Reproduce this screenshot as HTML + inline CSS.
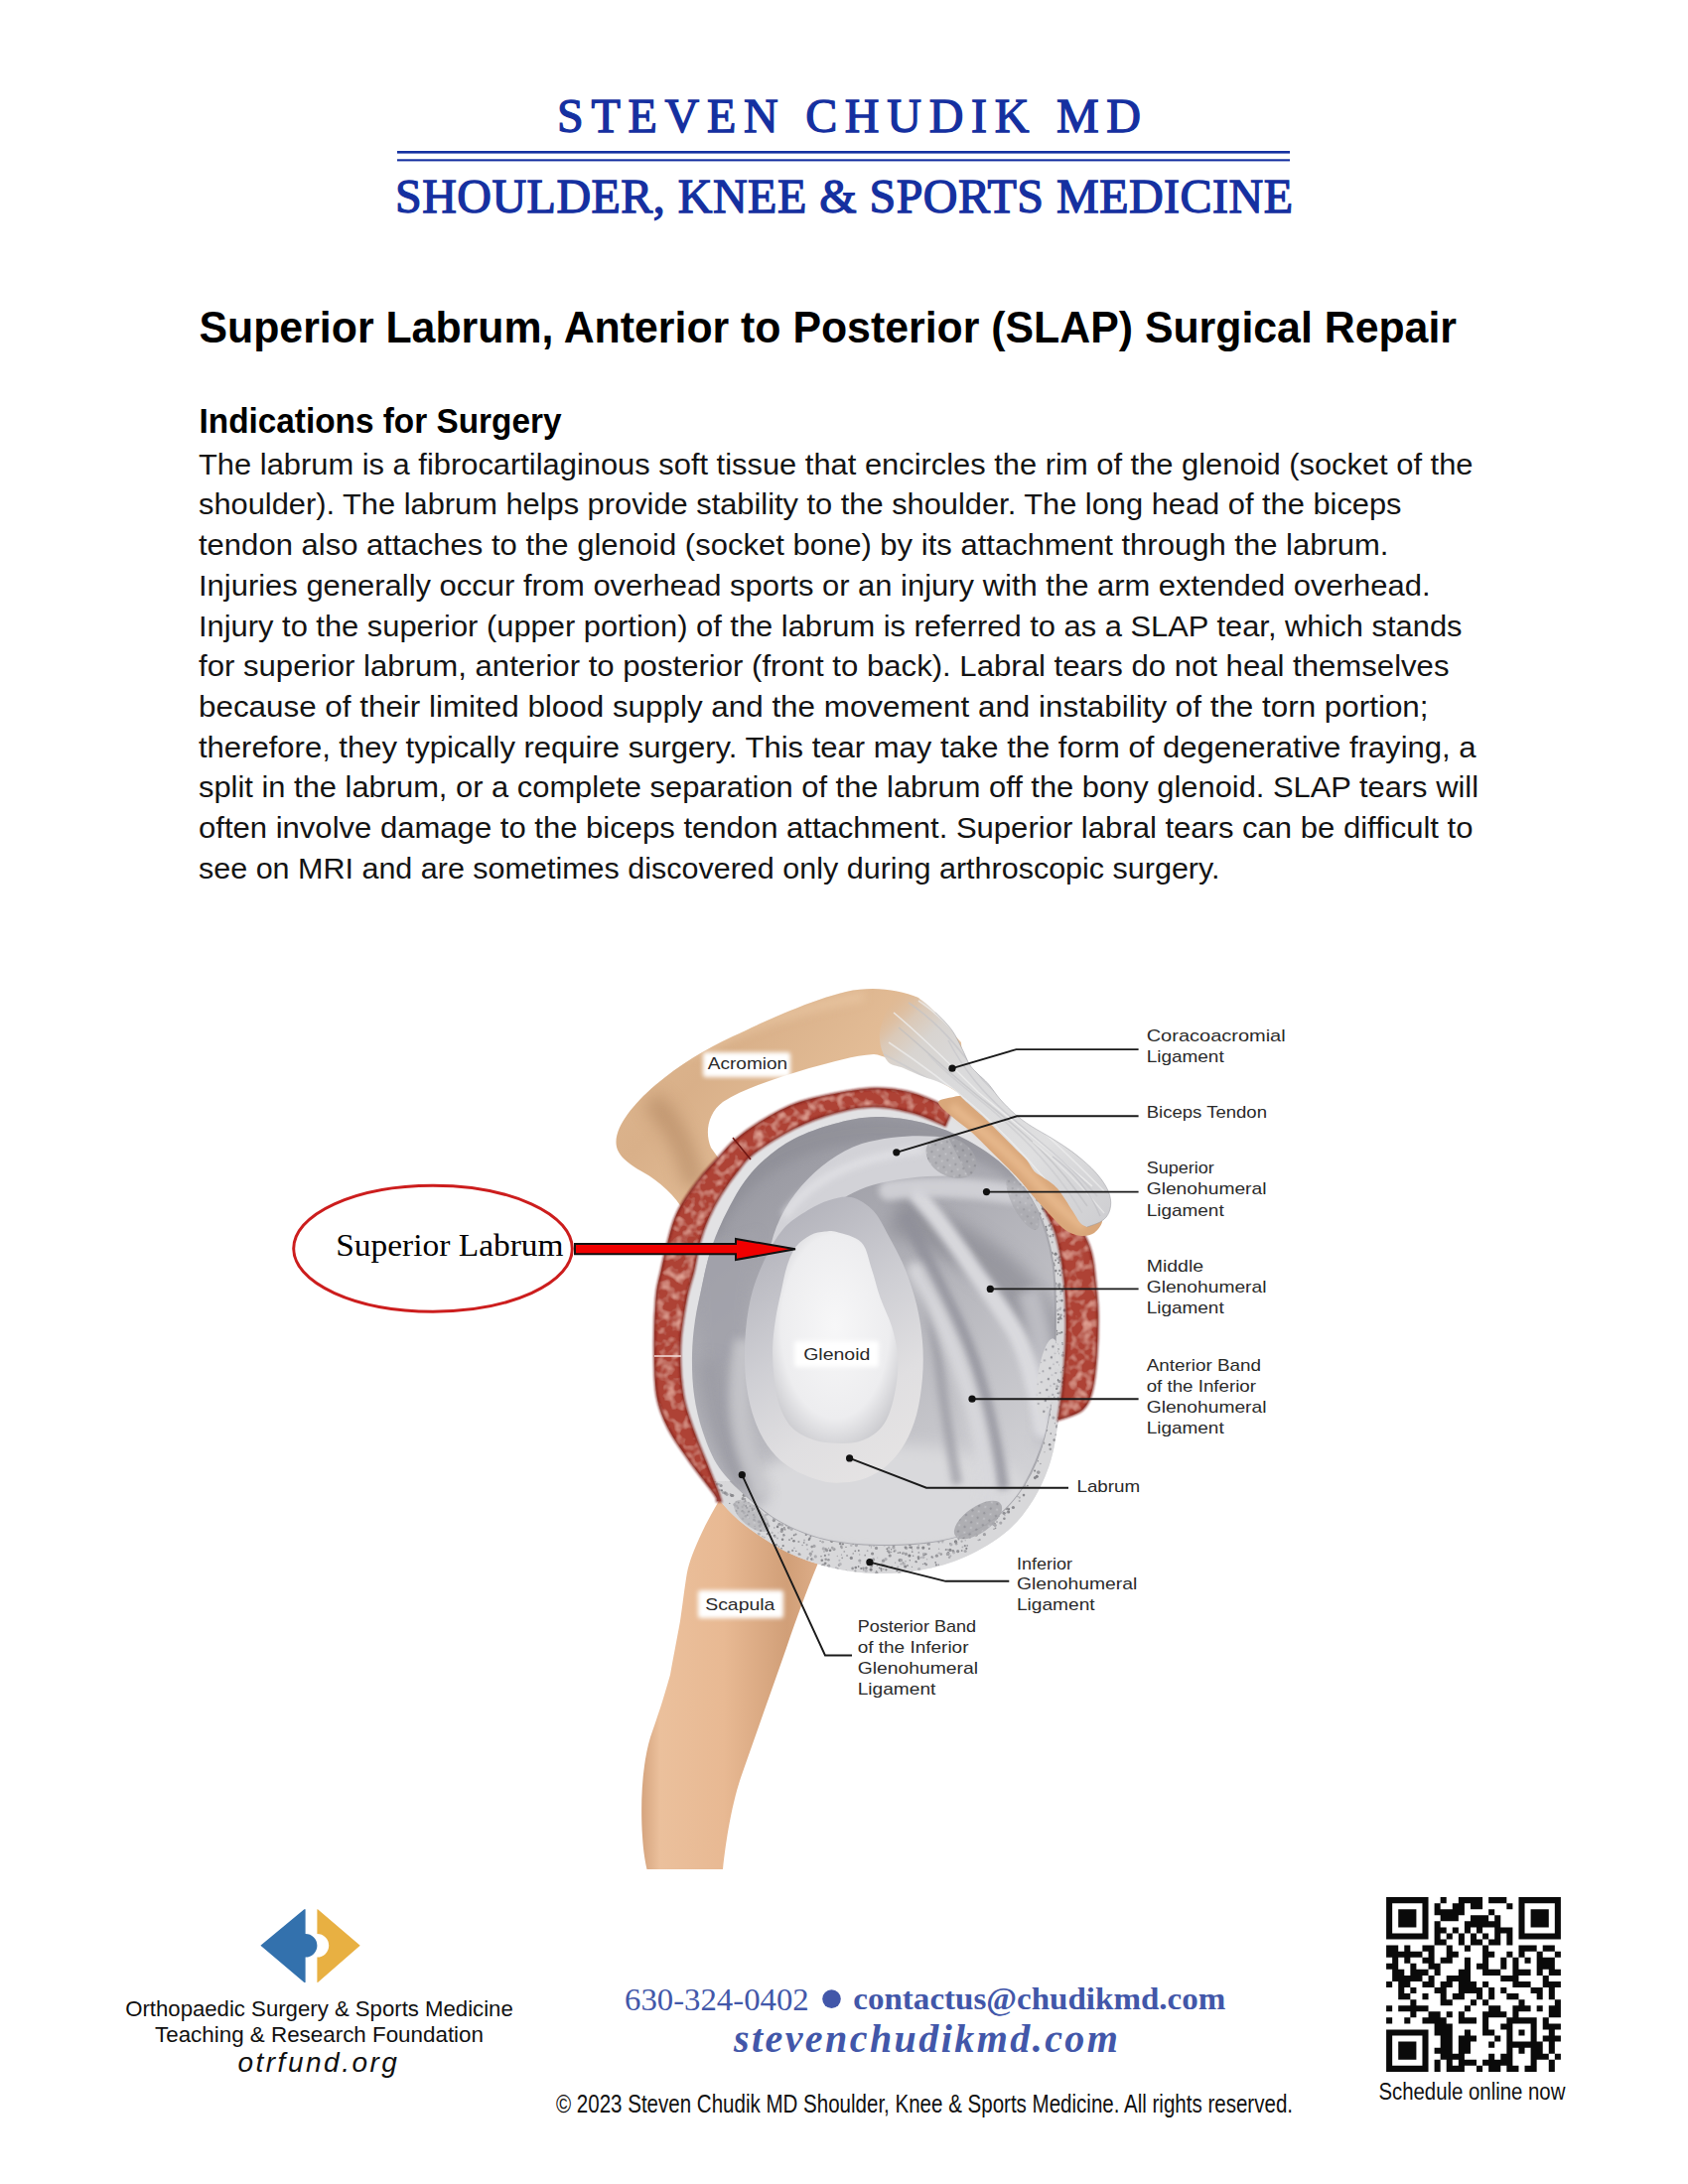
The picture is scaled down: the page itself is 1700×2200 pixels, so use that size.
<!DOCTYPE html>
<html><head><meta charset="utf-8">
<style>
html,body{margin:0;padding:0;background:#fff;}
body{width:1700px;height:2200px;overflow:hidden;position:relative;}
svg{position:absolute;left:0;top:0;}
.sans{font-family:"Liberation Sans",sans-serif;}
.serif{font-family:"Liberation Serif",serif;}
</style></head>
<body>
<svg width="1700" height="2200" viewBox="0 0 1700 2200">
<!-- HEADER -->
<g fill="#1530a0" class="serif" stroke="#1530a0" stroke-width="1.3">
<text x="561" y="133.2" font-size="48" textLength="588" lengthAdjust="spacing">STEVEN CHUDIK MD</text>
<rect x="400" y="152" width="899" height="2.6" stroke="none"/>
<rect x="400" y="160.3" width="899" height="2.1" stroke="none"/>
<text x="398" y="213.6" font-size="48" textLength="904" lengthAdjust="spacing">SHOULDER, KNEE &amp; SPORTS MEDICINE</text>
</g>
<!-- TITLE -->
<g class="sans" fill="#000">
<text x="200.5" y="345" font-size="45" font-weight="bold" textLength="1266.5" lengthAdjust="spacingAndGlyphs">Superior Labrum, Anterior to Posterior (SLAP) Surgical Repair</text>
<text x="200.5" y="436" font-size="35.3" font-weight="bold" textLength="365" lengthAdjust="spacingAndGlyphs">Indications for Surgery</text>
<g font-size="29.6" fill="#141414">
<text x="200" y="477.7" textLength="1283.5" lengthAdjust="spacingAndGlyphs">The labrum is a fibrocartilaginous soft tissue that encircles the rim of the glenoid (socket of the</text>
<text x="200" y="518.4" textLength="1211.5" lengthAdjust="spacingAndGlyphs">shoulder). The labrum helps provide stability to the shoulder. The long head of the biceps</text>
<text x="200" y="559.1" textLength="1198.5" lengthAdjust="spacingAndGlyphs">tendon also attaches to the glenoid (socket bone) by its attachment through the labrum.</text>
<text x="200" y="599.8" textLength="1240.5" lengthAdjust="spacingAndGlyphs">Injuries generally occur from overhead sports or an injury with the arm extended overhead.</text>
<text x="200" y="640.5" textLength="1272.5" lengthAdjust="spacingAndGlyphs">Injury to the superior (upper portion) of the labrum is referred to as a SLAP tear, which stands</text>
<text x="200" y="681.2" textLength="1259.5" lengthAdjust="spacingAndGlyphs">for superior labrum, anterior to posterior (front to back). Labral tears do not heal themselves</text>
<text x="200" y="721.9" textLength="1238.5" lengthAdjust="spacingAndGlyphs">because of their limited blood supply and the movement and instability of the torn portion;</text>
<text x="200" y="762.6" textLength="1286.5" lengthAdjust="spacingAndGlyphs">therefore, they typically require surgery. This tear may take the form of degenerative fraying, a</text>
<text x="200" y="803.3" textLength="1289.0" lengthAdjust="spacingAndGlyphs">split in the labrum, or a complete separation of the labrum off the bony glenoid. SLAP tears will</text>
<text x="200" y="844.0" textLength="1283.5" lengthAdjust="spacingAndGlyphs">often involve damage to the biceps tendon attachment. Superior labral tears can be difficult to</text>
<text x="200" y="884.7" textLength="1028.5" lengthAdjust="spacingAndGlyphs">see on MRI and are sometimes discovered only during arthroscopic surgery.</text>
</g>
</g>
<!--DIAGRAM-->
<defs>
<linearGradient id="gScap" x1="0" y1="0" x2="1" y2="0">
<stop offset="0" stop-color="#d5a47e"/>
<stop offset="0.1" stop-color="#ebc09c"/>
<stop offset="0.45" stop-color="#e8b993"/>
<stop offset="0.8" stop-color="#d19f78"/>
<stop offset="1" stop-color="#dfb08b"/>
</linearGradient>
<linearGradient id="gAcr" x1="0" y1="0" x2="1" y2="0.6">
<stop offset="0" stop-color="#dfb992"/>
<stop offset="0.35" stop-color="#d9b089"/>
<stop offset="0.7" stop-color="#e4be98"/>
<stop offset="1" stop-color="#eac6a2"/>
</linearGradient>
<linearGradient id="gLig" gradientUnits="userSpaceOnUse" x1="890" y1="1000" x2="1110" y2="1230">
<stop offset="0.02" stop-color="#dcb48e" stop-opacity="0"/>
<stop offset="0.12" stop-color="#d9cbbd" stop-opacity="0.85"/>
<stop offset="0.2" stop-color="#d8d4d0"/>
<stop offset="0.35" stop-color="#dadadb"/>
<stop offset="0.7" stop-color="#dfdfe0"/>
<stop offset="1" stop-color="#cfcfd2"/>
</linearGradient>
<linearGradient id="gFossa" x1="0" y1="0" x2="0.6" y2="1">
<stop offset="0" stop-color="#8e8e97"/>
<stop offset="0.45" stop-color="#acacb3"/>
<stop offset="1" stop-color="#d0d0d4"/>
</linearGradient>
<radialGradient id="gGlen" cx="0.5" cy="0.45" r="0.6">
<stop offset="0" stop-color="#f7f7f8"/>
<stop offset="0.72" stop-color="#ededef"/>
<stop offset="1" stop-color="#cbcbcf"/>
</radialGradient>
<linearGradient id="gLab" gradientUnits="userSpaceOnUse" x1="760" y1="1250" x2="920" y2="1480">
<stop offset="0" stop-color="#b4b4bc"/>
<stop offset="0.4" stop-color="#cfcfd4"/>
<stop offset="0.7" stop-color="#e0dfe1"/>
<stop offset="1" stop-color="#e6e4e4"/>
</linearGradient>
<pattern id="pSpeck" width="13" height="11" patternUnits="userSpaceOnUse">
<rect width="13" height="11" fill="#dadadc"/>
<circle cx="3" cy="3" r="1.2" fill="#8d8d93"/>
<circle cx="9.5" cy="7" r="1" fill="#9a9aa0"/>
<circle cx="6" cy="9.5" r="0.8" fill="#b0b0b5"/>
</pattern>
<pattern id="pSpeck2" width="9" height="8" patternUnits="userSpaceOnUse">
<rect width="9" height="8" fill="#a6a6ab"/>
<circle cx="2" cy="2" r="1.2" fill="#8a8a90"/>
<circle cx="6.5" cy="5.5" r="1" fill="#c4c4c8"/>
</pattern>
<filter id="blur1" filterUnits="userSpaceOnUse" x="0" y="0" width="1700" height="2200"><feGaussianBlur stdDeviation="0.8"/></filter>
<filter id="blur2" filterUnits="userSpaceOnUse" x="0" y="0" width="1700" height="2200"><feGaussianBlur stdDeviation="2"/></filter>
<filter id="blur3" filterUnits="userSpaceOnUse" x="0" y="0" width="1700" height="2200"><feGaussianBlur stdDeviation="3"/></filter>
<filter id="blur5" filterUnits="userSpaceOnUse" x="0" y="0" width="1700" height="2200"><feGaussianBlur stdDeviation="5"/></filter>
<filter id="blur8" filterUnits="userSpaceOnUse" x="0" y="0" width="1700" height="2200"><feGaussianBlur stdDeviation="8"/></filter>
<filter id="tex" filterUnits="userSpaceOnUse" x="600" y="1050" width="560" height="500">
<feTurbulence type="fractalNoise" baseFrequency="0.1" numOctaves="2" seed="11" result="n"/>
<feColorMatrix in="n" type="matrix" values="0 0 0 0 0.87  0 0 0 0 0.47  0 0 0 0 0.39  1.7 0 0 0 -0.75" result="c"/>
<feComposite in="c" in2="SourceGraphic" operator="in" result="t"/>
<feMerge><feMergeNode in="SourceGraphic"/><feMergeNode in="t"/></feMerge>
</filter>
<clipPath id="cFossa"><path d="M697.0,1365.0 C697.2,1352.5 698.3,1341.7 700.0,1330.0 C701.7,1318.3 704.7,1305.8 707.0,1295.0 C709.3,1284.2 711.3,1274.2 714.0,1265.0 C716.7,1255.8 719.5,1248.3 723.0,1240.0 C726.5,1231.7 730.5,1223.3 735.0,1215.0 C739.5,1206.7 744.2,1197.8 750.0,1190.0 C755.8,1182.2 761.7,1175.2 770.0,1168.0 C778.3,1160.8 788.3,1153.0 800.0,1147.0 C811.7,1141.0 826.3,1135.7 840.0,1132.0 C853.7,1128.3 867.0,1125.2 882.0,1125.0 C897.0,1124.8 914.5,1127.0 930.0,1131.0 C945.5,1135.0 960.8,1141.2 975.0,1149.0 C989.2,1156.8 1003.3,1166.2 1015.0,1178.0 C1026.7,1189.8 1037.5,1204.7 1045.0,1220.0 C1052.5,1235.3 1057.0,1251.7 1060.0,1270.0 C1063.0,1288.3 1063.0,1308.3 1063.0,1330.0 C1063.0,1351.7 1062.5,1378.3 1060.0,1400.0 C1057.5,1421.7 1053.8,1442.5 1048.0,1460.0 C1042.2,1477.5 1034.7,1492.2 1025.0,1505.0 C1015.3,1517.8 1003.3,1529.2 990.0,1537.0 C976.7,1544.8 962.5,1548.8 945.0,1552.0 C927.5,1555.2 904.2,1556.3 885.0,1556.0 C865.8,1555.7 846.7,1554.0 830.0,1550.0 C813.3,1546.0 798.3,1539.5 785.0,1532.0 C771.7,1524.5 760.2,1514.0 750.0,1505.0 C739.8,1496.0 731.0,1488.3 724.0,1478.0 C717.0,1467.7 712.2,1455.2 708.0,1443.0 C703.8,1430.8 700.8,1418.0 699.0,1405.0 C697.2,1392.0 696.8,1377.5 697.0,1365.0 Z"/></clipPath>
<clipPath id="cAcr"><path d="M690,1222 C680,1204 664,1190 648,1181 C632,1172 620,1163 620.5,1150 C621,1133 638,1112 660,1093 C685,1072 710,1057 738,1044 C772,1028 815,1008 852,999 C880,993 905,997 925,1005 L968,1050 L972,1106 C960,1096 940,1086 917,1076 C900,1069 890,1063 880,1062 C860,1063 838,1070 815,1076 C782,1086 750,1096 728,1110 C712,1122 710,1142 716,1156 L726,1170 L720,1225 Z"/></clipPath>
<clipPath id="cLig"><path d="M900.0,1001.0 C904.0,1001.7 917.0,1001.9 924.0,1005.0 C931.0,1008.1 936.2,1014.2 942.0,1019.6 C947.8,1025.0 954.0,1031.2 958.5,1037.4 C963.0,1043.6 966.0,1050.8 969.0,1056.6 C972.0,1062.4 973.8,1067.9 976.3,1072.0 C978.8,1076.1 980.8,1077.7 984.0,1081.0 C987.2,1084.3 991.7,1087.7 995.5,1092.0 C999.3,1096.3 1002.5,1101.9 1007.0,1107.0 C1011.5,1112.1 1017.2,1117.9 1022.4,1122.4 C1027.6,1126.9 1031.7,1129.9 1038.0,1134.0 C1044.3,1138.1 1053.0,1142.6 1060.0,1147.0 C1067.0,1151.4 1073.5,1155.4 1080.0,1160.3 C1086.5,1165.2 1093.8,1171.2 1099.2,1176.6 C1104.6,1182.0 1109.3,1187.7 1112.5,1192.9 C1115.7,1198.1 1117.7,1203.0 1118.4,1207.7 C1119.2,1212.4 1118.5,1217.3 1117.0,1221.0 C1115.5,1224.7 1113.3,1227.5 1109.6,1230.0 C1105.9,1232.5 1097.3,1235.0 1094.8,1236.0 C1093.7,1235.3 1090.5,1234.7 1088.0,1232.0 C1085.5,1229.3 1083.8,1225.4 1080.0,1219.6 C1076.2,1213.8 1069.7,1202.7 1065.0,1197.3 C1060.3,1191.9 1055.9,1189.9 1052.0,1187.0 C1048.1,1184.1 1044.7,1183.1 1041.7,1180.0 C1038.7,1176.9 1037.2,1172.4 1034.0,1168.6 C1030.8,1164.8 1026.9,1161.5 1022.4,1157.0 C1017.9,1152.5 1012.1,1146.7 1007.0,1141.6 C1001.9,1136.5 997.4,1131.6 991.6,1126.2 C985.8,1120.8 977.5,1114.0 972.4,1109.3 C967.3,1104.5 965.3,1100.9 960.8,1097.7 C956.3,1094.5 950.5,1092.2 945.4,1090.0 C940.3,1087.8 935.9,1086.9 930.0,1084.6 C924.1,1082.3 916.2,1078.8 910.0,1076.0 C903.8,1073.2 897.0,1074.0 893.0,1068.0 C889.0,1062.0 884.8,1051.2 886.0,1040.0 C887.2,1028.8 897.7,1007.5 900.0,1001.0 Z"/></clipPath>
<clipPath id="cBase"><path d="M719.6,1505.0 C710.8,1494.6 702.4,1483.0 694.7,1472.0 C687.0,1461.0 678.7,1450.0 673.2,1439.0 C667.7,1428.0 664.0,1419.8 661.6,1406.0 C659.2,1392.2 659.2,1372.7 659.1,1356.0 C659.0,1339.3 659.9,1318.7 661.0,1306.0 C662.1,1293.3 664.1,1289.0 666.0,1280.0 C667.9,1271.0 670.2,1260.7 672.5,1252.0 C674.8,1243.3 676.7,1235.2 679.5,1228.0 C682.3,1220.8 684.8,1216.1 689.3,1209.0 C693.8,1201.9 700.7,1192.4 706.4,1185.3 C712.1,1178.2 717.7,1172.6 723.4,1166.4 C729.1,1160.2 733.4,1154.4 740.5,1148.3 C747.6,1142.2 756.0,1136.0 765.9,1130.0 C775.8,1124.0 787.6,1117.0 800.0,1112.3 C812.4,1107.6 827.2,1104.6 840.5,1102.0 C853.8,1099.4 868.1,1096.9 880.0,1096.5 C891.9,1096.1 902.0,1097.3 912.0,1099.4 C922.0,1101.5 931.2,1105.2 940.0,1109.0 C948.8,1112.8 955.0,1115.2 965.0,1122.0 C975.0,1128.8 989.2,1140.3 1000.0,1150.0 C1010.8,1159.7 1020.8,1169.2 1030.0,1180.0 C1039.2,1190.8 1048.7,1201.7 1055.0,1215.0 C1061.3,1228.3 1065.0,1245.8 1068.0,1260.0 C1071.0,1274.2 1072.0,1286.7 1073.0,1300.0 C1074.0,1313.3 1074.3,1325.0 1074.0,1340.0 C1073.7,1355.0 1072.3,1375.0 1071.0,1390.0 C1069.7,1405.0 1068.2,1416.3 1066.0,1430.0 C1063.8,1443.7 1062.3,1458.4 1058.0,1472.0 C1053.7,1485.6 1047.5,1499.9 1040.0,1511.8 C1032.5,1523.7 1024.4,1533.9 1013.2,1543.3 C1002.0,1552.7 987.0,1561.6 972.7,1568.0 C958.4,1574.4 942.6,1578.8 927.6,1581.6 C912.6,1584.4 897.6,1585.4 882.6,1585.0 C867.6,1584.6 852.6,1582.9 837.6,1579.3 C822.6,1575.7 807.6,1571.1 792.6,1563.6 C777.6,1556.1 759.7,1544.1 747.5,1534.3 C735.3,1524.5 728.4,1515.4 719.6,1505.0 Z"/></clipPath>
<clipPath id="cBottom"><path d="M600,1492 L745,1492 L1010,1195 L1130,1195 L1130,1600 L600,1600 Z"/></clipPath>
</defs>
<g id="diagram">
<!-- scapula neck -->
<path d="M732,1498 C722,1515 712,1532 704,1550 C697,1566 693,1576 691,1590 C688,1610 687,1620 685,1633 C681,1655 678,1670 675,1687 C668,1712 662,1730 655,1750 C646,1780 645,1820 647,1850 C648,1866 650,1876 651.5,1883 L728,1883 C731,1855 737,1815 748,1785 C762,1745 778,1700 792,1660 C804,1625 815,1595 830,1560 L800,1490 Z" fill="url(#gScap)"/>
<!-- acromion -->
<path d="M690,1222 C680,1204 664,1190 648,1181 C632,1172 620,1163 620.5,1150 C621,1133 638,1112 660,1093 C685,1072 710,1057 738,1044 C772,1028 815,1008 852,999 C880,993 905,997 925,1005 L968,1050 L972,1106 C960,1096 940,1086 917,1076 C900,1069 890,1063 880,1062 C860,1063 838,1070 815,1076 C782,1086 750,1096 728,1110 C712,1122 710,1142 716,1156 L726,1170 L720,1225 Z" fill="url(#gAcr)"/>
<g clip-path="url(#cAcr)"><path d="M655,1108 C672,1122 690,1150 700,1195" stroke="#b08560" stroke-width="22" fill="none" opacity="0.55" filter="url(#blur8)"/></g>
<g clip-path="url(#cAcr)"><path d="M690,1062 C740,1040 800,1015 870,1003" stroke="#f0d0ae" stroke-width="10" fill="none" opacity="0.5" filter="url(#blur5)"/></g>
<!-- base -->
<path d="M719.6,1505.0 C710.8,1494.6 702.4,1483.0 694.7,1472.0 C687.0,1461.0 678.7,1450.0 673.2,1439.0 C667.7,1428.0 664.0,1419.8 661.6,1406.0 C659.2,1392.2 659.2,1372.7 659.1,1356.0 C659.0,1339.3 659.9,1318.7 661.0,1306.0 C662.1,1293.3 664.1,1289.0 666.0,1280.0 C667.9,1271.0 670.2,1260.7 672.5,1252.0 C674.8,1243.3 676.7,1235.2 679.5,1228.0 C682.3,1220.8 684.8,1216.1 689.3,1209.0 C693.8,1201.9 700.7,1192.4 706.4,1185.3 C712.1,1178.2 717.7,1172.6 723.4,1166.4 C729.1,1160.2 733.4,1154.4 740.5,1148.3 C747.6,1142.2 756.0,1136.0 765.9,1130.0 C775.8,1124.0 787.6,1117.0 800.0,1112.3 C812.4,1107.6 827.2,1104.6 840.5,1102.0 C853.8,1099.4 868.1,1096.9 880.0,1096.5 C891.9,1096.1 902.0,1097.3 912.0,1099.4 C922.0,1101.5 931.2,1105.2 940.0,1109.0 C948.8,1112.8 955.0,1115.2 965.0,1122.0 C975.0,1128.8 989.2,1140.3 1000.0,1150.0 C1010.8,1159.7 1020.8,1169.2 1030.0,1180.0 C1039.2,1190.8 1048.7,1201.7 1055.0,1215.0 C1061.3,1228.3 1065.0,1245.8 1068.0,1260.0 C1071.0,1274.2 1072.0,1286.7 1073.0,1300.0 C1074.0,1313.3 1074.3,1325.0 1074.0,1340.0 C1073.7,1355.0 1072.3,1375.0 1071.0,1390.0 C1069.7,1405.0 1068.2,1416.3 1066.0,1430.0 C1063.8,1443.7 1062.3,1458.4 1058.0,1472.0 C1053.7,1485.6 1047.5,1499.9 1040.0,1511.8 C1032.5,1523.7 1024.4,1533.9 1013.2,1543.3 C1002.0,1552.7 987.0,1561.6 972.7,1568.0 C958.4,1574.4 942.6,1578.8 927.6,1581.6 C912.6,1584.4 897.6,1585.4 882.6,1585.0 C867.6,1584.6 852.6,1582.9 837.6,1579.3 C822.6,1575.7 807.6,1571.1 792.6,1563.6 C777.6,1556.1 759.7,1544.1 747.5,1534.3 C735.3,1524.5 728.4,1515.4 719.6,1505.0 Z" fill="#e2e2e4"/>
<g clip-path="url(#cBottom)"><path d="M719.6,1505.0 C710.8,1494.6 702.4,1483.0 694.7,1472.0 C687.0,1461.0 678.7,1450.0 673.2,1439.0 C667.7,1428.0 664.0,1419.8 661.6,1406.0 C659.2,1392.2 659.2,1372.7 659.1,1356.0 C659.0,1339.3 659.9,1318.7 661.0,1306.0 C662.1,1293.3 664.1,1289.0 666.0,1280.0 C667.9,1271.0 670.2,1260.7 672.5,1252.0 C674.8,1243.3 676.7,1235.2 679.5,1228.0 C682.3,1220.8 684.8,1216.1 689.3,1209.0 C693.8,1201.9 700.7,1192.4 706.4,1185.3 C712.1,1178.2 717.7,1172.6 723.4,1166.4 C729.1,1160.2 733.4,1154.4 740.5,1148.3 C747.6,1142.2 756.0,1136.0 765.9,1130.0 C775.8,1124.0 787.6,1117.0 800.0,1112.3 C812.4,1107.6 827.2,1104.6 840.5,1102.0 C853.8,1099.4 868.1,1096.9 880.0,1096.5 C891.9,1096.1 902.0,1097.3 912.0,1099.4 C922.0,1101.5 931.2,1105.2 940.0,1109.0 C948.8,1112.8 955.0,1115.2 965.0,1122.0 C975.0,1128.8 989.2,1140.3 1000.0,1150.0 C1010.8,1159.7 1020.8,1169.2 1030.0,1180.0 C1039.2,1190.8 1048.7,1201.7 1055.0,1215.0 C1061.3,1228.3 1065.0,1245.8 1068.0,1260.0 C1071.0,1274.2 1072.0,1286.7 1073.0,1300.0 C1074.0,1313.3 1074.3,1325.0 1074.0,1340.0 C1073.7,1355.0 1072.3,1375.0 1071.0,1390.0 C1069.7,1405.0 1068.2,1416.3 1066.0,1430.0 C1063.8,1443.7 1062.3,1458.4 1058.0,1472.0 C1053.7,1485.6 1047.5,1499.9 1040.0,1511.8 C1032.5,1523.7 1024.4,1533.9 1013.2,1543.3 C1002.0,1552.7 987.0,1561.6 972.7,1568.0 C958.4,1574.4 942.6,1578.8 927.6,1581.6 C912.6,1584.4 897.6,1585.4 882.6,1585.0 C867.6,1584.6 852.6,1582.9 837.6,1579.3 C822.6,1575.7 807.6,1571.1 792.6,1563.6 C777.6,1556.1 759.7,1544.1 747.5,1534.3 C735.3,1524.5 728.4,1515.4 719.6,1505.0 Z" fill="#d8d8da"/><g clip-path="url(#cBase)"><circle cx="877.1" cy="1581.1" r="1.6" fill="#818185"/><circle cx="735.5" cy="1505.0" r="0.9" fill="#a9a9ad"/><circle cx="1031.7" cy="1230.8" r="1.1" fill="#9e9ea2"/><circle cx="731.2" cy="1477.9" r="0.7" fill="#a4a4a8"/><circle cx="1071.2" cy="1388.4" r="1.3" fill="#919195"/><circle cx="1077.8" cy="1328.9" r="1.3" fill="#8a8a8e"/><circle cx="789.9" cy="1528.6" r="1.6" fill="#a7a7ab"/><circle cx="988.0" cy="1516.3" r="0.7" fill="#8d8d91"/><circle cx="769.9" cy="1548.6" r="0.9" fill="#b7b7bb"/><circle cx="1061.5" cy="1317.2" r="0.9" fill="#a2a2a6"/><circle cx="722.5" cy="1477.3" r="0.9" fill="#acacb0"/><circle cx="1081.0" cy="1342.1" r="1.3" fill="#939397"/><circle cx="1025.7" cy="1205.3" r="0.9" fill="#909094"/><circle cx="1039.7" cy="1237.8" r="1.6" fill="#a5a5a9"/><circle cx="1038.9" cy="1454.6" r="1.1" fill="#9e9ea2"/><circle cx="828.6" cy="1553.3" r="1.3" fill="#adadb1"/><circle cx="1060.6" cy="1325.3" r="0.7" fill="#afafb3"/><circle cx="1034.0" cy="1470.3" r="1.6" fill="#b2b2b6"/><circle cx="1005.9" cy="1508.8" r="0.7" fill="#9c9ca0"/><circle cx="1030.5" cy="1226.9" r="0.9" fill="#87878b"/><circle cx="781.8" cy="1556.2" r="1.3" fill="#96969a"/><circle cx="957.3" cy="1567.3" r="1.1" fill="#b1b1b5"/><circle cx="985.3" cy="1537.6" r="1.1" fill="#b7b7bb"/><circle cx="1054.3" cy="1424.4" r="0.7" fill="#8d8d91"/><circle cx="1045.2" cy="1461.7" r="0.9" fill="#959599"/><circle cx="1066.0" cy="1410.7" r="0.7" fill="#939397"/><circle cx="834.5" cy="1559.5" r="0.7" fill="#a8a8ac"/><circle cx="1069.8" cy="1300.3" r="1.3" fill="#8a8a8e"/><circle cx="814.6" cy="1543.7" r="1.6" fill="#a2a2a6"/><circle cx="720.7" cy="1433.1" r="1.6" fill="#96969a"/><circle cx="748.9" cy="1506.4" r="1.3" fill="#89898d"/><circle cx="1051.1" cy="1220.4" r="0.7" fill="#b3b3b7"/><circle cx="969.4" cy="1558.4" r="0.9" fill="#aeaeb2"/><circle cx="916.3" cy="1556.1" r="1.3" fill="#86868a"/><circle cx="1063.3" cy="1318.9" r="0.7" fill="#b6b6ba"/><circle cx="1000.6" cy="1504.0" r="1.6" fill="#b6b6ba"/><circle cx="1067.5" cy="1318.7" r="1.3" fill="#acacb0"/><circle cx="804.4" cy="1553.0" r="1.1" fill="#9e9ea2"/><circle cx="1008.7" cy="1494.5" r="1.3" fill="#b4b4b8"/><circle cx="682.6" cy="1389.8" r="1.3" fill="#b7b7bb"/><circle cx="1033.4" cy="1451.3" r="1.1" fill="#a0a0a4"/><circle cx="766.1" cy="1541.8" r="1.1" fill="#848488"/><circle cx="765.2" cy="1537.1" r="1.6" fill="#aaaaae"/><circle cx="1028.6" cy="1216.1" r="1.6" fill="#adadb1"/><circle cx="843.6" cy="1580.2" r="1.1" fill="#b1b1b5"/><circle cx="690.3" cy="1394.7" r="1.1" fill="#a9a9ad"/><circle cx="1077.2" cy="1325.8" r="1.3" fill="#a3a3a7"/><circle cx="779.5" cy="1530.7" r="1.1" fill="#9d9da1"/><circle cx="1057.8" cy="1419.6" r="1.1" fill="#96969a"/><circle cx="1056.8" cy="1405.9" r="1.3" fill="#96969a"/><circle cx="717.5" cy="1436.0" r="1.3" fill="#97979b"/><circle cx="700.1" cy="1413.6" r="1.6" fill="#8a8a8e"/><circle cx="1064.3" cy="1343.9" r="1.3" fill="#929296"/><circle cx="827.8" cy="1571.7" r="1.3" fill="#8a8a8e"/><circle cx="881.6" cy="1587.6" r="1.6" fill="#aaaaae"/><circle cx="710.4" cy="1427.1" r="1.6" fill="#b1b1b5"/><circle cx="734.2" cy="1476.5" r="0.7" fill="#8c8c90"/><circle cx="1064.4" cy="1311.2" r="0.9" fill="#8e8e92"/><circle cx="790.1" cy="1533.0" r="0.7" fill="#9e9ea2"/><circle cx="705.4" cy="1391.8" r="0.9" fill="#87878b"/><circle cx="1042.2" cy="1437.6" r="0.9" fill="#a3a3a7"/><circle cx="1032.7" cy="1213.9" r="1.3" fill="#aaaaae"/><circle cx="885.1" cy="1575.9" r="0.9" fill="#adadb1"/><circle cx="727.5" cy="1447.1" r="1.3" fill="#919195"/><circle cx="726.1" cy="1496.5" r="1.6" fill="#97979b"/><circle cx="697.6" cy="1407.4" r="1.1" fill="#86868a"/><circle cx="1056.5" cy="1424.9" r="1.6" fill="#929296"/><circle cx="691.7" cy="1415.1" r="1.3" fill="#9a9a9e"/><circle cx="752.2" cy="1518.8" r="1.1" fill="#9d9da1"/><circle cx="1066.3" cy="1295.2" r="1.6" fill="#9e9ea2"/><circle cx="688.0" cy="1417.5" r="1.6" fill="#858589"/><circle cx="1047.9" cy="1474.5" r="0.7" fill="#98989c"/><circle cx="1058.7" cy="1267.1" r="1.6" fill="#a2a2a6"/><circle cx="1067.0" cy="1293.8" r="1.6" fill="#98989c"/><circle cx="1011.4" cy="1529.8" r="1.3" fill="#929296"/><circle cx="976.7" cy="1548.7" r="1.3" fill="#b6b6ba"/><circle cx="709.5" cy="1448.7" r="1.1" fill="#afafb3"/><circle cx="696.2" cy="1393.2" r="1.3" fill="#818185"/><circle cx="1061.7" cy="1450.6" r="1.3" fill="#929296"/><circle cx="1051.0" cy="1300.3" r="1.6" fill="#9c9ca0"/><circle cx="1052.8" cy="1381.1" r="0.9" fill="#b4b4b8"/><circle cx="1020.8" cy="1495.2" r="1.6" fill="#919195"/><circle cx="1064.9" cy="1381.9" r="0.7" fill="#8f8f93"/><circle cx="971.8" cy="1557.2" r="1.1" fill="#929296"/><circle cx="972.2" cy="1562.5" r="1.6" fill="#a9a9ad"/><circle cx="722.3" cy="1491.4" r="0.7" fill="#818185"/><circle cx="787.6" cy="1535.9" r="1.6" fill="#adadb1"/><circle cx="1039.2" cy="1453.1" r="1.6" fill="#818185"/><circle cx="980.9" cy="1531.9" r="1.6" fill="#88888c"/><circle cx="1028.2" cy="1218.5" r="1.3" fill="#ababaf"/><circle cx="701.3" cy="1450.8" r="1.6" fill="#8c8c90"/><circle cx="1005.0" cy="1518.8" r="1.3" fill="#b6b6ba"/><circle cx="715.3" cy="1447.0" r="1.3" fill="#ababaf"/><circle cx="742.2" cy="1484.8" r="1.1" fill="#9d9da1"/><circle cx="754.7" cy="1494.9" r="0.7" fill="#acacb0"/><circle cx="772.4" cy="1535.4" r="1.3" fill="#939397"/><circle cx="1063.2" cy="1296.5" r="1.6" fill="#b8b8bc"/><circle cx="960.5" cy="1544.7" r="0.9" fill="#9b9b9f"/><circle cx="904.3" cy="1581.7" r="0.7" fill="#aeaeb2"/><circle cx="1075.7" cy="1371.8" r="0.7" fill="#aaaaae"/><circle cx="708.2" cy="1423.0" r="1.3" fill="#848488"/><circle cx="688.4" cy="1379.6" r="0.7" fill="#87878b"/><circle cx="746.1" cy="1491.4" r="0.7" fill="#adadb1"/><circle cx="706.5" cy="1469.9" r="1.3" fill="#89898d"/><circle cx="1059.0" cy="1331.2" r="0.9" fill="#848488"/><circle cx="877.7" cy="1557.6" r="0.7" fill="#aaaaae"/><circle cx="1017.9" cy="1478.0" r="0.7" fill="#a4a4a8"/><circle cx="911.7" cy="1578.0" r="1.6" fill="#88888c"/><circle cx="1013.8" cy="1204.9" r="1.6" fill="#9f9fa3"/><circle cx="973.3" cy="1559.8" r="1.1" fill="#838387"/><circle cx="1057.5" cy="1294.2" r="1.6" fill="#a8a8ac"/><circle cx="840.0" cy="1560.6" r="1.6" fill="#a3a3a7"/><circle cx="878.6" cy="1565.0" r="1.6" fill="#8f8f93"/><circle cx="1071.0" cy="1392.7" r="1.6" fill="#88888c"/><circle cx="750.9" cy="1527.3" r="1.3" fill="#afafb3"/><circle cx="1015.1" cy="1485.3" r="0.7" fill="#a9a9ad"/><circle cx="1043.9" cy="1461.7" r="0.7" fill="#858589"/><circle cx="730.6" cy="1483.8" r="1.3" fill="#8f8f93"/><circle cx="1021.6" cy="1493.1" r="1.1" fill="#86868a"/><circle cx="771.8" cy="1511.9" r="1.3" fill="#838387"/><circle cx="728.1" cy="1503.5" r="1.3" fill="#ababaf"/><circle cx="760.7" cy="1532.0" r="0.7" fill="#aaaaae"/><circle cx="962.8" cy="1538.9" r="1.6" fill="#98989c"/><circle cx="1031.3" cy="1464.8" r="1.1" fill="#a7a7ab"/><circle cx="817.5" cy="1570.6" r="1.3" fill="#88888c"/><circle cx="810.1" cy="1551.5" r="1.1" fill="#b3b3b7"/><circle cx="870.6" cy="1588.2" r="1.1" fill="#a1a1a5"/><circle cx="1045.0" cy="1204.2" r="0.9" fill="#afafb3"/><circle cx="1055.5" cy="1329.4" r="0.7" fill="#828286"/><circle cx="1059.4" cy="1333.9" r="1.3" fill="#b8b8bc"/><circle cx="701.0" cy="1431.0" r="1.1" fill="#808084"/><circle cx="1000.3" cy="1511.4" r="1.6" fill="#9b9b9f"/><circle cx="1047.4" cy="1446.1" r="0.9" fill="#89898d"/><circle cx="857.3" cy="1556.8" r="1.3" fill="#b7b7bb"/><circle cx="731.7" cy="1465.4" r="1.1" fill="#87878b"/><circle cx="1051.2" cy="1407.0" r="1.1" fill="#ababaf"/><circle cx="1066.0" cy="1374.9" r="0.7" fill="#96969a"/><circle cx="711.9" cy="1437.1" r="0.7" fill="#acacb0"/><circle cx="1026.7" cy="1204.6" r="0.9" fill="#87878b"/><circle cx="772.9" cy="1525.2" r="1.3" fill="#ababaf"/><circle cx="1079.5" cy="1381.5" r="0.7" fill="#8c8c90"/><circle cx="813.1" cy="1560.8" r="0.7" fill="#a7a7ab"/><circle cx="1026.7" cy="1512.0" r="1.1" fill="#ababaf"/><circle cx="1051.0" cy="1437.4" r="1.1" fill="#848488"/><circle cx="799.9" cy="1559.3" r="0.9" fill="#b1b1b5"/><circle cx="1070.6" cy="1380.4" r="0.7" fill="#a9a9ad"/><circle cx="887.4" cy="1580.4" r="1.1" fill="#808084"/><circle cx="983.7" cy="1533.3" r="1.3" fill="#8a8a8e"/><circle cx="1038.3" cy="1218.9" r="1.6" fill="#a4a4a8"/><circle cx="1029.6" cy="1459.3" r="0.7" fill="#8f8f93"/><circle cx="717.1" cy="1458.4" r="1.3" fill="#838387"/><circle cx="834.4" cy="1571.2" r="1.3" fill="#99999d"/><circle cx="779.4" cy="1519.4" r="1.3" fill="#9c9ca0"/><circle cx="1042.0" cy="1427.4" r="0.7" fill="#8c8c90"/><circle cx="1067.8" cy="1327.4" r="1.3" fill="#8c8c90"/><circle cx="936.9" cy="1547.6" r="1.1" fill="#b2b2b6"/><circle cx="1058.1" cy="1267.4" r="0.9" fill="#a6a6aa"/><circle cx="1053.6" cy="1238.8" r="1.6" fill="#818185"/><circle cx="993.8" cy="1520.5" r="1.3" fill="#a4a4a8"/><circle cx="779.8" cy="1538.9" r="0.9" fill="#aeaeb2"/><circle cx="828.6" cy="1578.0" r="0.9" fill="#a3a3a7"/><circle cx="1053.8" cy="1276.1" r="0.7" fill="#b1b1b5"/><circle cx="772.8" cy="1545.2" r="1.1" fill="#88888c"/><circle cx="1050.4" cy="1289.3" r="0.9" fill="#acacb0"/><circle cx="1048.9" cy="1250.2" r="1.6" fill="#aaaaae"/><circle cx="1053.4" cy="1381.1" r="0.9" fill="#838387"/><circle cx="818.7" cy="1571.0" r="1.1" fill="#b8b8bc"/><circle cx="1052.6" cy="1261.3" r="1.1" fill="#98989c"/><circle cx="789.0" cy="1546.7" r="1.1" fill="#a9a9ad"/><circle cx="713.9" cy="1422.0" r="0.7" fill="#9c9ca0"/><circle cx="1069.0" cy="1295.7" r="0.7" fill="#aeaeb2"/><circle cx="1036.4" cy="1222.7" r="0.7" fill="#b3b3b7"/><circle cx="757.9" cy="1521.1" r="1.1" fill="#848488"/><circle cx="1044.0" cy="1428.9" r="1.3" fill="#ababaf"/><circle cx="1036.8" cy="1439.7" r="1.6" fill="#b0b0b4"/><circle cx="803.8" cy="1536.0" r="0.7" fill="#838387"/><circle cx="689.3" cy="1405.5" r="1.3" fill="#b7b7bb"/><circle cx="1075.9" cy="1397.6" r="0.7" fill="#8e8e92"/><circle cx="939.8" cy="1547.9" r="0.9" fill="#959599"/><circle cx="1028.2" cy="1466.2" r="1.6" fill="#b4b4b8"/><circle cx="1079.6" cy="1311.4" r="1.1" fill="#a1a1a5"/><circle cx="889.3" cy="1577.1" r="0.9" fill="#9c9ca0"/><circle cx="783.1" cy="1537.9" r="1.3" fill="#87878b"/><circle cx="1043.7" cy="1453.5" r="0.9" fill="#9d9da1"/><circle cx="895.2" cy="1561.2" r="0.7" fill="#b1b1b5"/><circle cx="847.3" cy="1557.9" r="1.3" fill="#9f9fa3"/><circle cx="895.2" cy="1558.9" r="1.3" fill="#ababaf"/><circle cx="1051.3" cy="1216.6" r="0.7" fill="#a4a4a8"/><circle cx="1072.0" cy="1376.5" r="1.1" fill="#99999d"/><circle cx="978.6" cy="1527.3" r="0.9" fill="#939397"/><circle cx="918.7" cy="1563.2" r="0.9" fill="#97979b"/><circle cx="1032.6" cy="1463.3" r="0.7" fill="#a7a7ab"/><circle cx="962.8" cy="1544.1" r="0.9" fill="#b5b5b9"/><circle cx="1062.9" cy="1377.1" r="0.7" fill="#8a8a8e"/><circle cx="1024.3" cy="1504.3" r="1.1" fill="#8c8c90"/><circle cx="759.4" cy="1531.0" r="1.3" fill="#ababaf"/><circle cx="980.1" cy="1539.4" r="0.7" fill="#b3b3b7"/><circle cx="1073.3" cy="1344.1" r="0.7" fill="#a0a0a4"/><circle cx="889.7" cy="1576.8" r="1.3" fill="#818185"/><circle cx="1038.3" cy="1435.3" r="1.1" fill="#a0a0a4"/><circle cx="1025.1" cy="1488.9" r="1.3" fill="#9c9ca0"/><circle cx="687.4" cy="1394.2" r="1.6" fill="#aaaaae"/><circle cx="1034.7" cy="1237.5" r="1.3" fill="#97979b"/><circle cx="712.9" cy="1407.2" r="1.6" fill="#8d8d91"/><circle cx="1047.7" cy="1411.4" r="0.7" fill="#b1b1b5"/><circle cx="1038.7" cy="1472.3" r="1.3" fill="#939397"/><circle cx="711.2" cy="1399.3" r="0.9" fill="#848488"/><circle cx="1025.0" cy="1222.6" r="1.1" fill="#96969a"/><circle cx="829.6" cy="1576.4" r="1.6" fill="#a7a7ab"/><circle cx="919.7" cy="1567.3" r="0.7" fill="#87878b"/><circle cx="1079.1" cy="1380.6" r="1.6" fill="#9b9b9f"/><circle cx="1010.4" cy="1485.2" r="1.3" fill="#98989c"/><circle cx="1071.7" cy="1325.9" r="0.9" fill="#ababaf"/><circle cx="883.7" cy="1569.1" r="0.7" fill="#b5b5b9"/><circle cx="830.9" cy="1566.9" r="1.1" fill="#8f8f93"/><circle cx="728.0" cy="1462.1" r="1.1" fill="#b3b3b7"/><circle cx="1065.4" cy="1403.3" r="0.9" fill="#848488"/><circle cx="869.8" cy="1581.6" r="0.9" fill="#a9a9ad"/><circle cx="1045.3" cy="1231.6" r="1.6" fill="#aeaeb2"/><circle cx="1008.9" cy="1498.4" r="1.3" fill="#a1a1a5"/><circle cx="895.4" cy="1563.6" r="1.3" fill="#919195"/><circle cx="1060.5" cy="1243.8" r="1.1" fill="#8b8b8f"/><circle cx="1000.1" cy="1504.8" r="1.1" fill="#a4a4a8"/><circle cx="925.0" cy="1568.6" r="1.3" fill="#8c8c90"/><circle cx="1037.7" cy="1442.7" r="1.1" fill="#aeaeb2"/><circle cx="1059.4" cy="1236.1" r="0.9" fill="#b5b5b9"/><circle cx="944.3" cy="1543.9" r="0.9" fill="#b6b6ba"/><circle cx="979.1" cy="1534.2" r="0.9" fill="#acacb0"/><circle cx="882.6" cy="1583.0" r="0.7" fill="#808084"/><circle cx="1058.5" cy="1339.7" r="0.7" fill="#959599"/><circle cx="1068.2" cy="1303.4" r="0.7" fill="#a4a4a8"/><circle cx="783.0" cy="1549.5" r="0.9" fill="#adadb1"/><circle cx="717.5" cy="1463.1" r="1.6" fill="#a8a8ac"/><circle cx="719.9" cy="1487.0" r="1.1" fill="#86868a"/><circle cx="759.9" cy="1506.9" r="1.1" fill="#97979b"/><circle cx="1077.9" cy="1320.5" r="0.7" fill="#8f8f93"/><circle cx="1016.9" cy="1503.4" r="1.3" fill="#808084"/><circle cx="1061.7" cy="1274.6" r="1.1" fill="#88888c"/><circle cx="834.7" cy="1566.1" r="1.1" fill="#afafb3"/><circle cx="1053.3" cy="1235.8" r="1.1" fill="#818185"/><circle cx="1058.5" cy="1275.3" r="1.1" fill="#b0b0b4"/><circle cx="794.2" cy="1563.6" r="1.3" fill="#89898d"/><circle cx="1057.3" cy="1421.0" r="0.7" fill="#a4a4a8"/><circle cx="1055.1" cy="1270.4" r="0.7" fill="#a1a1a5"/><circle cx="996.1" cy="1512.3" r="0.9" fill="#919195"/><circle cx="848.9" cy="1555.3" r="1.1" fill="#86868a"/><circle cx="925.3" cy="1563.9" r="0.9" fill="#a2a2a6"/><circle cx="732.1" cy="1504.5" r="0.9" fill="#858589"/><circle cx="983.9" cy="1519.9" r="0.7" fill="#808084"/><circle cx="759.0" cy="1503.5" r="0.7" fill="#818185"/><circle cx="1063.6" cy="1388.0" r="1.3" fill="#b7b7bb"/><circle cx="945.7" cy="1542.6" r="0.9" fill="#8c8c90"/><circle cx="698.7" cy="1398.3" r="1.3" fill="#a1a1a5"/><circle cx="1045.4" cy="1253.1" r="1.3" fill="#a0a0a4"/><circle cx="1020.5" cy="1211.3" r="1.6" fill="#9b9b9f"/><circle cx="722.5" cy="1495.0" r="1.6" fill="#a8a8ac"/><circle cx="901.4" cy="1561.9" r="1.3" fill="#b1b1b5"/><circle cx="804.9" cy="1565.5" r="1.3" fill="#98989c"/><circle cx="1062.2" cy="1317.2" r="1.1" fill="#b1b1b5"/><circle cx="1077.2" cy="1336.7" r="0.7" fill="#97979b"/><circle cx="1065.6" cy="1359.1" r="1.1" fill="#88888c"/><circle cx="976.6" cy="1532.2" r="0.7" fill="#b1b1b5"/><circle cx="1065.7" cy="1318.9" r="0.7" fill="#ababaf"/><circle cx="1034.9" cy="1496.6" r="0.9" fill="#8c8c90"/><circle cx="858.6" cy="1579.9" r="1.3" fill="#949498"/><circle cx="893.3" cy="1560.2" r="0.9" fill="#848488"/><circle cx="698.9" cy="1448.6" r="0.7" fill="#808084"/><circle cx="1065.8" cy="1332.1" r="1.1" fill="#88888c"/><circle cx="790.5" cy="1540.7" r="0.9" fill="#89898d"/><circle cx="1066.9" cy="1428.1" r="1.6" fill="#858589"/><circle cx="1048.5" cy="1411.3" r="1.3" fill="#97979b"/><circle cx="1064.5" cy="1436.5" r="1.6" fill="#a5a5a9"/><circle cx="1001.3" cy="1535.2" r="1.6" fill="#88888c"/><circle cx="1064.1" cy="1398.8" r="1.3" fill="#88888c"/><circle cx="1070.8" cy="1377.8" r="0.7" fill="#808084"/><circle cx="1018.6" cy="1205.5" r="0.9" fill="#a0a0a4"/><circle cx="815.5" cy="1549.7" r="1.1" fill="#838387"/><circle cx="764.1" cy="1513.3" r="1.3" fill="#b8b8bc"/><circle cx="1029.4" cy="1455.1" r="1.1" fill="#9c9ca0"/><circle cx="993.8" cy="1533.0" r="1.1" fill="#a4a4a8"/><circle cx="943.4" cy="1567.2" r="1.6" fill="#98989c"/><circle cx="700.6" cy="1386.0" r="0.9" fill="#a5a5a9"/><circle cx="717.3" cy="1427.7" r="1.3" fill="#838387"/><circle cx="799.5" cy="1552.2" r="1.3" fill="#86868a"/><circle cx="713.7" cy="1436.2" r="1.6" fill="#97979b"/><circle cx="753.5" cy="1496.8" r="1.1" fill="#848488"/><circle cx="965.5" cy="1550.5" r="0.9" fill="#a4a4a8"/><circle cx="982.0" cy="1518.7" r="0.7" fill="#87878b"/><circle cx="1033.5" cy="1454.7" r="1.1" fill="#909094"/><circle cx="754.0" cy="1513.6" r="0.9" fill="#afafb3"/><circle cx="1054.0" cy="1283.5" r="0.7" fill="#a8a8ac"/><circle cx="1055.4" cy="1387.3" r="0.9" fill="#acacb0"/><circle cx="1073.0" cy="1401.7" r="1.3" fill="#b5b5b9"/><circle cx="1057.4" cy="1326.4" r="0.7" fill="#afafb3"/><circle cx="1028.5" cy="1463.3" r="1.3" fill="#828286"/><circle cx="827.0" cy="1567.7" r="0.7" fill="#818185"/><circle cx="899.9" cy="1558.8" r="1.6" fill="#a7a7ab"/><circle cx="996.7" cy="1527.1" r="1.6" fill="#acacb0"/><circle cx="1046.3" cy="1275.1" r="1.6" fill="#858589"/><circle cx="1041.2" cy="1214.0" r="1.1" fill="#a9a9ad"/><circle cx="945.6" cy="1560.2" r="0.7" fill="#a9a9ad"/><circle cx="838.8" cy="1559.7" r="1.3" fill="#b0b0b4"/><circle cx="1052.4" cy="1432.1" r="1.1" fill="#808084"/><circle cx="728.4" cy="1469.6" r="1.3" fill="#9d9da1"/><circle cx="1029.8" cy="1491.3" r="1.1" fill="#949498"/><circle cx="710.4" cy="1418.0" r="0.7" fill="#89898d"/><circle cx="1028.3" cy="1460.9" r="1.3" fill="#9c9ca0"/><circle cx="878.0" cy="1578.0" r="0.9" fill="#8c8c90"/><circle cx="1062.9" cy="1293.2" r="1.6" fill="#9c9ca0"/><circle cx="709.6" cy="1428.5" r="0.7" fill="#89898d"/><circle cx="1001.4" cy="1521.9" r="1.6" fill="#a2a2a6"/><circle cx="709.2" cy="1414.9" r="0.9" fill="#aaaaae"/><circle cx="1068.2" cy="1317.6" r="1.1" fill="#b5b5b9"/><circle cx="1054.3" cy="1440.8" r="0.9" fill="#909094"/><circle cx="1011.2" cy="1524.3" r="1.6" fill="#909094"/><circle cx="972.2" cy="1551.7" r="0.7" fill="#b4b4b8"/><circle cx="1066.1" cy="1272.0" r="1.1" fill="#86868a"/><circle cx="1059.2" cy="1262.3" r="1.6" fill="#8b8b8f"/><circle cx="1050.1" cy="1214.8" r="1.3" fill="#8b8b8f"/><circle cx="867.3" cy="1580.0" r="1.1" fill="#86868a"/><circle cx="1010.2" cy="1501.5" r="0.7" fill="#939397"/><circle cx="1049.6" cy="1230.5" r="1.3" fill="#b7b7bb"/><circle cx="1004.9" cy="1495.4" r="0.7" fill="#8b8b8f"/><circle cx="1025.7" cy="1223.5" r="1.6" fill="#9a9a9e"/><circle cx="1053.9" cy="1265.8" r="0.9" fill="#9a9a9e"/><circle cx="1031.3" cy="1205.8" r="1.1" fill="#a9a9ad"/><circle cx="1057.3" cy="1267.6" r="1.1" fill="#848488"/><circle cx="976.0" cy="1525.4" r="0.9" fill="#87878b"/><circle cx="882.5" cy="1559.4" r="1.6" fill="#98989c"/><circle cx="994.3" cy="1516.3" r="1.6" fill="#9d9da1"/><circle cx="699.4" cy="1399.3" r="0.9" fill="#b8b8bc"/><circle cx="956.1" cy="1568.8" r="1.3" fill="#aaaaae"/><circle cx="868.8" cy="1586.7" r="1.1" fill="#b8b8bc"/><circle cx="755.4" cy="1517.1" r="0.9" fill="#939397"/><circle cx="1050.8" cy="1218.3" r="1.3" fill="#939397"/><circle cx="1002.2" cy="1536.4" r="1.6" fill="#a8a8ac"/><circle cx="958.4" cy="1544.2" r="1.1" fill="#9d9da1"/><circle cx="983.1" cy="1546.0" r="1.6" fill="#86868a"/><circle cx="1054.4" cy="1291.7" r="0.7" fill="#9c9ca0"/><circle cx="704.1" cy="1377.4" r="0.9" fill="#a9a9ad"/><circle cx="1050.9" cy="1254.1" r="1.6" fill="#9d9da1"/><circle cx="740.6" cy="1480.7" r="1.3" fill="#86868a"/><circle cx="1065.5" cy="1431.5" r="1.1" fill="#acacb0"/><circle cx="1045.3" cy="1221.3" r="0.7" fill="#8d8d91"/><circle cx="784.9" cy="1535.3" r="1.6" fill="#9e9ea2"/><circle cx="865.8" cy="1572.0" r="1.6" fill="#a6a6aa"/><circle cx="1054.9" cy="1412.4" r="1.1" fill="#88888c"/><circle cx="943.6" cy="1552.2" r="1.1" fill="#b1b1b5"/><circle cx="1065.5" cy="1283.0" r="0.7" fill="#808084"/><circle cx="964.5" cy="1535.8" r="1.3" fill="#aaaaae"/><circle cx="1067.8" cy="1417.4" r="1.6" fill="#ababaf"/><circle cx="991.4" cy="1545.7" r="1.6" fill="#a0a0a4"/><circle cx="1051.5" cy="1453.1" r="0.7" fill="#8a8a8e"/><circle cx="910.1" cy="1575.2" r="1.6" fill="#b2b2b6"/><circle cx="971.4" cy="1542.9" r="1.1" fill="#828286"/><circle cx="1053.4" cy="1366.6" r="0.7" fill="#afafb3"/><circle cx="1081.2" cy="1347.4" r="1.6" fill="#8f8f93"/><circle cx="847.5" cy="1566.1" r="0.7" fill="#98989c"/><circle cx="1015.8" cy="1520.0" r="1.1" fill="#808084"/><circle cx="1060.7" cy="1349.1" r="0.7" fill="#afafb3"/><circle cx="710.0" cy="1432.2" r="1.6" fill="#939397"/><circle cx="1056.2" cy="1363.5" r="1.6" fill="#a6a6aa"/><circle cx="929.5" cy="1575.6" r="0.7" fill="#909094"/><circle cx="936.6" cy="1544.8" r="1.3" fill="#838387"/><circle cx="978.7" cy="1526.7" r="0.9" fill="#86868a"/><circle cx="1077.8" cy="1319.9" r="1.3" fill="#9e9ea2"/><circle cx="1046.6" cy="1415.1" r="1.6" fill="#a7a7ab"/><circle cx="984.2" cy="1539.5" r="1.6" fill="#adadb1"/><circle cx="705.0" cy="1456.9" r="0.9" fill="#818185"/><circle cx="857.3" cy="1569.4" r="1.6" fill="#8c8c90"/><circle cx="693.0" cy="1405.4" r="0.9" fill="#86868a"/><circle cx="942.2" cy="1573.9" r="0.9" fill="#8e8e92"/><circle cx="1010.1" cy="1487.1" r="0.7" fill="#939397"/><circle cx="1078.2" cy="1333.7" r="1.3" fill="#8a8a8e"/><circle cx="783.7" cy="1525.6" r="1.3" fill="#acacb0"/><circle cx="1057.7" cy="1335.2" r="1.3" fill="#89898d"/><circle cx="1004.1" cy="1494.6" r="1.3" fill="#a1a1a5"/><circle cx="777.6" cy="1543.9" r="1.1" fill="#b0b0b4"/><circle cx="1046.1" cy="1258.8" r="1.3" fill="#b2b2b6"/><circle cx="749.1" cy="1523.6" r="1.6" fill="#b8b8bc"/><circle cx="743.8" cy="1513.5" r="0.9" fill="#8c8c90"/><circle cx="1040.9" cy="1446.0" r="0.7" fill="#8c8c90"/><circle cx="741.6" cy="1521.9" r="0.9" fill="#97979b"/><circle cx="869.5" cy="1579.7" r="1.3" fill="#97979b"/><circle cx="751.2" cy="1517.0" r="0.9" fill="#808084"/><circle cx="933.6" cy="1570.7" r="0.7" fill="#afafb3"/><circle cx="691.5" cy="1415.7" r="1.1" fill="#aeaeb2"/><circle cx="719.2" cy="1433.2" r="0.9" fill="#97979b"/><circle cx="1011.7" cy="1203.7" r="1.6" fill="#97979b"/><circle cx="787.2" cy="1542.5" r="1.6" fill="#9c9ca0"/><circle cx="725.5" cy="1464.7" r="1.6" fill="#9a9a9e"/><circle cx="1064.9" cy="1320.3" r="1.3" fill="#b4b4b8"/><circle cx="1024.9" cy="1200.6" r="0.7" fill="#b4b4b8"/><circle cx="955.0" cy="1564.2" r="1.3" fill="#8e8e92"/><circle cx="1054.2" cy="1246.1" r="1.1" fill="#86868a"/><circle cx="1045.3" cy="1249.2" r="0.9" fill="#949498"/><circle cx="1045.3" cy="1471.7" r="0.7" fill="#939397"/><circle cx="872.2" cy="1582.2" r="1.6" fill="#b8b8bc"/><circle cx="1053.7" cy="1245.7" r="0.7" fill="#828286"/><circle cx="974.2" cy="1556.9" r="0.9" fill="#9c9ca0"/><circle cx="1052.1" cy="1430.6" r="1.6" fill="#9c9ca0"/><circle cx="914.9" cy="1585.1" r="1.6" fill="#8f8f93"/><circle cx="715.8" cy="1477.6" r="1.6" fill="#939397"/><circle cx="1044.1" cy="1242.2" r="1.3" fill="#86868a"/><circle cx="1069.4" cy="1310.1" r="1.3" fill="#858589"/><circle cx="685.0" cy="1389.3" r="1.1" fill="#ababaf"/><circle cx="1051.5" cy="1266.7" r="1.3" fill="#949498"/><circle cx="1043.9" cy="1204.0" r="0.7" fill="#a6a6aa"/><circle cx="1061.1" cy="1368.2" r="1.1" fill="#9d9da1"/><circle cx="750.1" cy="1510.1" r="1.1" fill="#a0a0a4"/><circle cx="960.6" cy="1563.8" r="1.6" fill="#b8b8bc"/><circle cx="993.1" cy="1533.8" r="1.6" fill="#aeaeb2"/><circle cx="1013.5" cy="1502.1" r="0.9" fill="#848488"/><circle cx="1004.0" cy="1533.1" r="1.1" fill="#b2b2b6"/><circle cx="1035.5" cy="1479.4" r="1.6" fill="#86868a"/><circle cx="1065.8" cy="1324.1" r="1.1" fill="#828286"/><circle cx="916.3" cy="1571.8" r="0.7" fill="#848488"/><circle cx="714.4" cy="1437.8" r="1.1" fill="#929296"/><circle cx="996.5" cy="1512.4" r="1.3" fill="#9d9da1"/><circle cx="1060.9" cy="1428.1" r="1.6" fill="#acacb0"/><circle cx="692.4" cy="1380.2" r="1.3" fill="#b5b5b9"/><circle cx="981.3" cy="1535.6" r="0.7" fill="#8b8b8f"/><circle cx="1044.2" cy="1487.3" r="1.6" fill="#858589"/><circle cx="1067.9" cy="1266.3" r="1.1" fill="#b2b2b6"/><circle cx="1045.8" cy="1461.4" r="0.7" fill="#98989c"/><circle cx="1015.7" cy="1500.5" r="1.1" fill="#88888c"/><circle cx="1072.2" cy="1295.9" r="1.6" fill="#9d9da1"/><circle cx="1029.0" cy="1465.9" r="1.3" fill="#808084"/><circle cx="709.0" cy="1431.9" r="1.1" fill="#8c8c90"/><circle cx="879.6" cy="1570.9" r="1.6" fill="#a1a1a5"/><circle cx="985.3" cy="1525.2" r="0.7" fill="#8c8c90"/><circle cx="749.1" cy="1516.1" r="0.9" fill="#acacb0"/><circle cx="962.5" cy="1552.9" r="1.6" fill="#818185"/><circle cx="709.4" cy="1461.5" r="1.1" fill="#86868a"/><circle cx="1045.9" cy="1460.2" r="0.9" fill="#b6b6ba"/><circle cx="717.6" cy="1425.6" r="1.3" fill="#828286"/><circle cx="1061.7" cy="1407.2" r="0.7" fill="#8e8e92"/><circle cx="699.2" cy="1382.5" r="1.1" fill="#8e8e92"/><circle cx="1021.1" cy="1469.8" r="0.7" fill="#b0b0b4"/><circle cx="1081.4" cy="1337.5" r="1.1" fill="#87878b"/><circle cx="1053.2" cy="1383.0" r="0.7" fill="#b1b1b5"/><circle cx="687.7" cy="1382.4" r="1.1" fill="#b2b2b6"/><circle cx="1041.6" cy="1455.7" r="1.1" fill="#939397"/><circle cx="1036.8" cy="1240.0" r="1.3" fill="#b5b5b9"/><circle cx="1018.5" cy="1200.5" r="0.9" fill="#b6b6ba"/><circle cx="1046.9" cy="1222.9" r="1.6" fill="#8d8d91"/><circle cx="1026.9" cy="1491.2" r="1.1" fill="#9f9fa3"/><circle cx="1028.4" cy="1218.4" r="1.3" fill="#89898d"/><circle cx="1048.6" cy="1281.9" r="0.9" fill="#949498"/><circle cx="1042.2" cy="1488.5" r="1.3" fill="#808084"/><circle cx="737.8" cy="1506.5" r="1.6" fill="#949498"/><circle cx="945.5" cy="1553.5" r="1.1" fill="#a8a8ac"/><circle cx="1077.2" cy="1359.0" r="1.6" fill="#929296"/><circle cx="992.6" cy="1535.4" r="1.6" fill="#a5a5a9"/><circle cx="1079.5" cy="1343.8" r="1.6" fill="#939397"/><circle cx="1045.4" cy="1256.5" r="1.3" fill="#aaaaae"/><circle cx="861.3" cy="1562.3" r="0.9" fill="#8d8d91"/><circle cx="789.8" cy="1532.3" r="1.6" fill="#a5a5a9"/><circle cx="882.8" cy="1584.3" r="1.6" fill="#9f9fa3"/><circle cx="1065.8" cy="1363.5" r="1.1" fill="#acacb0"/><circle cx="1066.9" cy="1391.5" r="1.6" fill="#9d9da1"/><circle cx="758.9" cy="1526.0" r="1.1" fill="#a4a4a8"/><circle cx="976.9" cy="1541.3" r="0.7" fill="#939397"/><circle cx="1017.0" cy="1205.6" r="0.9" fill="#a9a9ad"/><circle cx="771.3" cy="1526.1" r="1.3" fill="#b6b6ba"/><circle cx="892.9" cy="1577.3" r="0.9" fill="#8c8c90"/><circle cx="994.5" cy="1528.4" r="0.9" fill="#afafb3"/><circle cx="1066.7" cy="1258.1" r="0.7" fill="#9f9fa3"/><circle cx="1068.9" cy="1328.4" r="0.9" fill="#919195"/><circle cx="814.8" cy="1550.9" r="1.1" fill="#858589"/><circle cx="865.7" cy="1566.0" r="0.7" fill="#a7a7ab"/><circle cx="1068.5" cy="1382.3" r="1.1" fill="#b3b3b7"/><circle cx="719.6" cy="1460.3" r="1.1" fill="#848488"/><circle cx="973.3" cy="1542.4" r="0.9" fill="#99999d"/><circle cx="845.1" cy="1576.6" r="1.3" fill="#a2a2a6"/><circle cx="1055.2" cy="1223.9" r="1.3" fill="#a7a7ab"/><circle cx="893.9" cy="1562.3" r="1.1" fill="#959599"/><circle cx="955.4" cy="1541.9" r="1.3" fill="#a7a7ab"/><circle cx="754.2" cy="1522.4" r="0.9" fill="#98989c"/><circle cx="816.5" cy="1567.1" r="0.9" fill="#a4a4a8"/><circle cx="883.4" cy="1577.0" r="0.7" fill="#929296"/><circle cx="792.2" cy="1536.2" r="1.3" fill="#9e9ea2"/><circle cx="947.8" cy="1565.6" r="1.3" fill="#9e9ea2"/><circle cx="706.0" cy="1426.4" r="1.6" fill="#8f8f93"/><circle cx="699.5" cy="1383.3" r="0.9" fill="#89898d"/><circle cx="1057.7" cy="1245.3" r="1.3" fill="#a2a2a6"/><circle cx="859.2" cy="1555.1" r="0.9" fill="#808084"/><circle cx="971.1" cy="1548.9" r="0.9" fill="#87878b"/><circle cx="754.5" cy="1529.3" r="0.7" fill="#b5b5b9"/><circle cx="1011.9" cy="1526.5" r="0.7" fill="#b0b0b4"/><circle cx="1007.8" cy="1534.1" r="1.6" fill="#a8a8ac"/><circle cx="789.8" cy="1538.9" r="0.9" fill="#8a8a8e"/><circle cx="965.1" cy="1548.1" r="1.6" fill="#949498"/><circle cx="1049.5" cy="1214.5" r="1.1" fill="#808084"/><circle cx="955.9" cy="1536.7" r="0.9" fill="#a3a3a7"/><circle cx="713.1" cy="1432.7" r="1.1" fill="#8e8e92"/><circle cx="760.2" cy="1509.3" r="0.7" fill="#a4a4a8"/><circle cx="968.7" cy="1562.0" r="0.9" fill="#959599"/><circle cx="1005.1" cy="1502.3" r="1.3" fill="#808084"/><circle cx="1058.3" cy="1444.1" r="0.9" fill="#949498"/><circle cx="1051.2" cy="1415.1" r="1.1" fill="#b0b0b4"/><circle cx="1059.2" cy="1386.1" r="1.6" fill="#9e9ea2"/><circle cx="1065.3" cy="1390.2" r="1.1" fill="#828286"/><circle cx="1071.7" cy="1295.5" r="0.7" fill="#86868a"/><circle cx="1001.9" cy="1530.2" r="1.6" fill="#b7b7bb"/><circle cx="1062.7" cy="1362.8" r="0.9" fill="#828286"/><circle cx="1004.4" cy="1522.7" r="1.3" fill="#808084"/><circle cx="1067.3" cy="1269.5" r="1.6" fill="#adadb1"/><circle cx="1013.1" cy="1485.8" r="0.7" fill="#808084"/><circle cx="1052.7" cy="1440.3" r="0.9" fill="#aeaeb2"/><circle cx="722.3" cy="1446.1" r="1.6" fill="#b7b7bb"/><circle cx="1043.1" cy="1426.8" r="1.3" fill="#a1a1a5"/><circle cx="792.5" cy="1565.3" r="0.7" fill="#939397"/><circle cx="943.6" cy="1544.3" r="1.3" fill="#87878b"/><circle cx="1049.3" cy="1267.8" r="1.6" fill="#a7a7ab"/><circle cx="1016.1" cy="1487.0" r="1.3" fill="#a1a1a5"/><circle cx="944.5" cy="1548.5" r="0.7" fill="#818185"/><circle cx="1057.4" cy="1279.3" r="0.7" fill="#ababaf"/><circle cx="981.5" cy="1539.4" r="1.1" fill="#9f9fa3"/><circle cx="1056.2" cy="1392.8" r="1.3" fill="#9e9ea2"/><circle cx="1058.0" cy="1388.6" r="1.6" fill="#b8b8bc"/><circle cx="697.3" cy="1405.6" r="1.3" fill="#828286"/><circle cx="843.3" cy="1567.5" r="0.7" fill="#aaaaae"/><circle cx="1059.8" cy="1323.0" r="1.6" fill="#b5b5b9"/><circle cx="735.5" cy="1471.8" r="1.1" fill="#8f8f93"/><circle cx="831.2" cy="1574.7" r="1.3" fill="#8b8b8f"/><circle cx="1079.7" cy="1365.8" r="1.3" fill="#a4a4a8"/><circle cx="776.7" cy="1520.7" r="0.9" fill="#b7b7bb"/><circle cx="1025.4" cy="1468.3" r="1.3" fill="#939397"/><circle cx="1045.9" cy="1240.3" r="1.1" fill="#b5b5b9"/><circle cx="888.8" cy="1588.9" r="0.9" fill="#848488"/><circle cx="952.8" cy="1561.0" r="1.1" fill="#939397"/><circle cx="839.6" cy="1551.8" r="1.1" fill="#97979b"/><circle cx="1033.1" cy="1457.3" r="0.9" fill="#98989c"/><circle cx="949.4" cy="1552.3" r="1.1" fill="#9a9a9e"/><circle cx="1020.4" cy="1518.5" r="1.6" fill="#8b8b8f"/><circle cx="784.3" cy="1558.0" r="0.7" fill="#959599"/><circle cx="733.0" cy="1464.3" r="0.9" fill="#afafb3"/><circle cx="1004.1" cy="1517.4" r="1.3" fill="#aaaaae"/><circle cx="809.7" cy="1553.9" r="0.9" fill="#97979b"/><circle cx="1056.9" cy="1360.7" r="0.7" fill="#98989c"/><circle cx="689.7" cy="1421.9" r="1.1" fill="#8a8a8e"/><circle cx="1007.2" cy="1502.7" r="1.1" fill="#9f9fa3"/><circle cx="1040.4" cy="1445.7" r="0.7" fill="#b0b0b4"/><circle cx="981.7" cy="1525.6" r="1.3" fill="#96969a"/><circle cx="709.7" cy="1402.1" r="0.9" fill="#a6a6aa"/><circle cx="1051.5" cy="1453.8" r="0.9" fill="#9e9ea2"/><circle cx="1065.1" cy="1342.9" r="1.1" fill="#a9a9ad"/><circle cx="878.0" cy="1576.0" r="1.6" fill="#8c8c90"/><circle cx="1063.1" cy="1263.2" r="1.6" fill="#818185"/><circle cx="818.1" cy="1562.9" r="1.1" fill="#b1b1b5"/><circle cx="1019.0" cy="1216.3" r="1.6" fill="#96969a"/><circle cx="698.9" cy="1426.8" r="0.7" fill="#acacb0"/><circle cx="946.0" cy="1564.4" r="0.9" fill="#acacb0"/><circle cx="907.4" cy="1575.5" r="1.1" fill="#acacb0"/><circle cx="717.8" cy="1467.7" r="0.9" fill="#88888c"/><circle cx="889.6" cy="1572.2" r="1.6" fill="#99999d"/><circle cx="801.5" cy="1545.6" r="1.1" fill="#949498"/><circle cx="1057.8" cy="1459.7" r="1.3" fill="#9e9ea2"/><circle cx="887.6" cy="1582.1" r="0.9" fill="#909094"/><circle cx="765.5" cy="1538.4" r="0.7" fill="#a5a5a9"/><circle cx="1053.7" cy="1265.9" r="1.6" fill="#86868a"/><circle cx="724.9" cy="1501.1" r="1.3" fill="#b8b8bc"/><circle cx="1006.2" cy="1512.7" r="1.1" fill="#949498"/><circle cx="783.9" cy="1543.9" r="0.7" fill="#b6b6ba"/><circle cx="700.1" cy="1414.5" r="1.6" fill="#8c8c90"/><circle cx="901.6" cy="1574.1" r="0.7" fill="#9f9fa3"/><circle cx="1068.0" cy="1284.5" r="1.1" fill="#929296"/><circle cx="1069.9" cy="1282.1" r="0.9" fill="#b0b0b4"/><circle cx="1030.5" cy="1231.4" r="1.3" fill="#b0b0b4"/><circle cx="1058.9" cy="1238.2" r="1.3" fill="#acacb0"/><circle cx="1054.1" cy="1238.7" r="0.7" fill="#a5a5a9"/><circle cx="945.7" cy="1548.2" r="1.6" fill="#aaaaae"/><circle cx="1073.4" cy="1370.1" r="1.3" fill="#a0a0a4"/><circle cx="906.3" cy="1564.0" r="0.9" fill="#88888c"/><circle cx="929.9" cy="1568.6" r="1.6" fill="#b6b6ba"/><circle cx="963.1" cy="1555.2" r="1.3" fill="#a8a8ac"/><circle cx="1067.2" cy="1402.9" r="1.3" fill="#b0b0b4"/><circle cx="1026.7" cy="1220.7" r="1.1" fill="#a5a5a9"/><circle cx="831.7" cy="1570.8" r="1.3" fill="#9a9a9e"/><circle cx="756.3" cy="1509.0" r="1.1" fill="#9e9ea2"/><circle cx="788.1" cy="1550.8" r="1.3" fill="#87878b"/><circle cx="731.4" cy="1457.0" r="1.6" fill="#afafb3"/><circle cx="724.7" cy="1495.1" r="0.9" fill="#aaaaae"/><circle cx="757.3" cy="1519.3" r="0.9" fill="#959599"/><circle cx="1057.1" cy="1455.3" r="1.3" fill="#858589"/><circle cx="1040.4" cy="1456.8" r="0.7" fill="#848488"/><circle cx="837.6" cy="1552.3" r="1.6" fill="#89898d"/><circle cx="1056.8" cy="1234.5" r="1.3" fill="#9b9b9f"/><circle cx="790.3" cy="1539.5" r="0.9" fill="#a6a6aa"/><circle cx="1042.6" cy="1489.3" r="0.9" fill="#858589"/><circle cx="705.4" cy="1460.1" r="1.1" fill="#919195"/><circle cx="1031.3" cy="1214.5" r="1.6" fill="#98989c"/><circle cx="1070.6" cy="1362.4" r="0.9" fill="#a5a5a9"/><circle cx="890.7" cy="1556.2" r="1.3" fill="#a8a8ac"/><circle cx="1077.6" cy="1341.2" r="1.1" fill="#b2b2b6"/><circle cx="1063.6" cy="1393.7" r="0.7" fill="#9c9ca0"/><circle cx="922.5" cy="1573.2" r="1.1" fill="#8b8b8f"/><circle cx="906.2" cy="1571.7" r="1.6" fill="#848488"/><circle cx="866.3" cy="1574.5" r="0.7" fill="#b4b4b8"/><circle cx="1068.0" cy="1268.8" r="0.7" fill="#a2a2a6"/><circle cx="715.9" cy="1463.8" r="0.7" fill="#acacb0"/><circle cx="1062.2" cy="1375.6" r="0.7" fill="#b0b0b4"/><circle cx="1049.8" cy="1274.0" r="1.1" fill="#919195"/><circle cx="1080.5" cy="1364.5" r="1.6" fill="#9d9da1"/><circle cx="900.5" cy="1562.7" r="0.9" fill="#8b8b8f"/><circle cx="731.6" cy="1463.4" r="1.6" fill="#98989c"/><circle cx="875.8" cy="1556.7" r="1.1" fill="#a6a6aa"/><circle cx="966.8" cy="1528.7" r="0.7" fill="#a2a2a6"/><circle cx="787.0" cy="1559.8" r="0.9" fill="#89898d"/><circle cx="1033.0" cy="1498.3" r="0.9" fill="#959599"/><circle cx="938.6" cy="1568.4" r="1.1" fill="#8c8c90"/><circle cx="1042.1" cy="1481.6" r="1.1" fill="#8b8b8f"/><circle cx="780.0" cy="1547.0" r="1.3" fill="#8f8f93"/><circle cx="766.5" cy="1507.7" r="1.6" fill="#a3a3a7"/><circle cx="1050.9" cy="1418.5" r="0.9" fill="#87878b"/><circle cx="702.2" cy="1458.9" r="0.7" fill="#a1a1a5"/><circle cx="1067.1" cy="1279.9" r="1.1" fill="#919195"/><circle cx="1039.8" cy="1228.7" r="0.9" fill="#aaaaae"/><circle cx="708.0" cy="1435.0" r="0.9" fill="#9d9da1"/><circle cx="1058.0" cy="1325.3" r="1.1" fill="#a8a8ac"/><circle cx="717.6" cy="1473.2" r="1.3" fill="#818185"/><circle cx="1033.7" cy="1223.1" r="0.9" fill="#97979b"/><circle cx="1067.8" cy="1265.9" r="1.3" fill="#aeaeb2"/><circle cx="708.4" cy="1471.0" r="1.6" fill="#ababaf"/><circle cx="738.5" cy="1475.3" r="1.1" fill="#b2b2b6"/><circle cx="766.6" cy="1535.5" r="1.3" fill="#b1b1b5"/><circle cx="927.5" cy="1569.0" r="1.1" fill="#b5b5b9"/><circle cx="848.2" cy="1569.3" r="0.9" fill="#9b9b9f"/><circle cx="681.9" cy="1382.9" r="0.7" fill="#848488"/><circle cx="1032.6" cy="1474.1" r="1.1" fill="#a3a3a7"/><circle cx="702.4" cy="1377.6" r="1.1" fill="#b1b1b5"/><circle cx="1051.6" cy="1286.8" r="0.7" fill="#8c8c90"/><circle cx="1045.9" cy="1247.1" r="0.7" fill="#88888c"/><circle cx="708.7" cy="1443.6" r="1.6" fill="#b8b8bc"/><circle cx="1065.5" cy="1396.6" r="1.1" fill="#a8a8ac"/><circle cx="1003.9" cy="1511.1" r="1.3" fill="#9c9ca0"/><circle cx="1004.4" cy="1529.3" r="0.7" fill="#88888c"/><circle cx="1070.1" cy="1354.1" r="0.9" fill="#a0a0a4"/><circle cx="1061.5" cy="1386.5" r="1.3" fill="#96969a"/><circle cx="1015.6" cy="1523.0" r="1.6" fill="#88888c"/><circle cx="1055.9" cy="1409.4" r="1.6" fill="#959599"/><circle cx="1063.1" cy="1311.9" r="0.7" fill="#ababaf"/><circle cx="852.2" cy="1583.0" r="1.6" fill="#a6a6aa"/><circle cx="1026.1" cy="1491.9" r="1.6" fill="#929296"/><circle cx="1068.5" cy="1324.8" r="1.3" fill="#a0a0a4"/><circle cx="1066.5" cy="1342.7" r="0.7" fill="#a9a9ad"/><circle cx="1037.1" cy="1447.8" r="1.3" fill="#a3a3a7"/><circle cx="1014.9" cy="1203.0" r="0.7" fill="#9a9a9e"/><circle cx="779.4" cy="1531.6" r="1.6" fill="#97979b"/><circle cx="729.4" cy="1460.8" r="1.1" fill="#8f8f93"/><circle cx="873.6" cy="1562.2" r="0.9" fill="#acacb0"/><circle cx="838.1" cy="1559.0" r="1.3" fill="#a8a8ac"/><circle cx="986.3" cy="1522.4" r="0.9" fill="#9a9a9e"/><circle cx="712.6" cy="1408.1" r="0.9" fill="#8b8b8f"/><circle cx="799.7" cy="1546.4" r="0.9" fill="#808084"/><circle cx="767.9" cy="1547.8" r="0.9" fill="#b6b6ba"/><circle cx="820.0" cy="1557.4" r="1.6" fill="#a7a7ab"/><circle cx="714.4" cy="1464.2" r="0.9" fill="#a8a8ac"/><circle cx="999.5" cy="1530.0" r="0.9" fill="#858589"/><circle cx="812.6" cy="1556.2" r="1.1" fill="#a9a9ad"/><circle cx="1067.0" cy="1309.9" r="0.9" fill="#b2b2b6"/><circle cx="728.8" cy="1503.5" r="0.9" fill="#a8a8ac"/><circle cx="836.1" cy="1561.7" r="1.3" fill="#848488"/><circle cx="904.3" cy="1578.7" r="1.1" fill="#adadb1"/><circle cx="1050.7" cy="1227.9" r="0.7" fill="#86868a"/><circle cx="1043.9" cy="1250.6" r="1.3" fill="#8e8e92"/><circle cx="1073.9" cy="1373.9" r="1.3" fill="#9b9b9f"/><circle cx="761.1" cy="1502.6" r="1.3" fill="#939397"/><circle cx="1046.8" cy="1448.1" r="0.9" fill="#818185"/><circle cx="842.0" cy="1579.3" r="1.1" fill="#b8b8bc"/><circle cx="888.2" cy="1575.7" r="1.3" fill="#a8a8ac"/><circle cx="925.2" cy="1556.8" r="0.7" fill="#a3a3a7"/><circle cx="925.1" cy="1569.9" r="1.3" fill="#8f8f93"/><circle cx="1043.1" cy="1454.2" r="0.9" fill="#8b8b8f"/><circle cx="1034.6" cy="1464.0" r="0.9" fill="#8c8c90"/><circle cx="968.6" cy="1552.7" r="1.1" fill="#a8a8ac"/><circle cx="932.6" cy="1565.5" r="1.1" fill="#89898d"/><circle cx="942.9" cy="1576.4" r="1.1" fill="#909094"/><circle cx="1046.0" cy="1483.1" r="1.6" fill="#97979b"/><circle cx="1055.5" cy="1337.3" r="0.9" fill="#b1b1b5"/><circle cx="845.4" cy="1571.8" r="1.1" fill="#b8b8bc"/><circle cx="1062.3" cy="1321.5" r="0.9" fill="#88888c"/><circle cx="714.6" cy="1485.3" r="1.3" fill="#b1b1b5"/><circle cx="1076.4" cy="1381.1" r="0.9" fill="#8f8f93"/><circle cx="918.4" cy="1583.5" r="0.9" fill="#a1a1a5"/><circle cx="1065.1" cy="1354.1" r="0.7" fill="#b3b3b7"/><circle cx="1066.9" cy="1297.1" r="1.1" fill="#9b9b9f"/><circle cx="699.9" cy="1452.9" r="0.7" fill="#919195"/><circle cx="749.4" cy="1513.1" r="0.9" fill="#b7b7bb"/><circle cx="769.9" cy="1517.7" r="0.7" fill="#acacb0"/><circle cx="986.8" cy="1551.0" r="0.9" fill="#a1a1a5"/><circle cx="1042.1" cy="1488.8" r="0.7" fill="#8a8a8e"/><circle cx="1054.2" cy="1412.2" r="1.3" fill="#858589"/><circle cx="735.0" cy="1472.2" r="0.7" fill="#858589"/><circle cx="1022.4" cy="1204.4" r="1.3" fill="#9c9ca0"/><circle cx="935.2" cy="1555.2" r="1.6" fill="#97979b"/><circle cx="1026.8" cy="1508.6" r="1.1" fill="#aeaeb2"/><circle cx="732.5" cy="1467.6" r="1.3" fill="#b2b2b6"/><circle cx="762.5" cy="1516.4" r="0.7" fill="#b0b0b4"/><circle cx="1069.9" cy="1352.6" r="0.7" fill="#8c8c90"/><circle cx="1071.0" cy="1396.5" r="1.6" fill="#939397"/><circle cx="726.9" cy="1501.4" r="1.1" fill="#838387"/><circle cx="1002.5" cy="1539.3" r="0.9" fill="#929296"/><circle cx="693.5" cy="1428.5" r="1.1" fill="#8f8f93"/><circle cx="914.0" cy="1577.0" r="0.9" fill="#8f8f93"/><circle cx="706.8" cy="1439.8" r="1.6" fill="#9f9fa3"/><circle cx="767.4" cy="1527.8" r="0.9" fill="#8e8e92"/><circle cx="1077.1" cy="1368.0" r="1.6" fill="#b3b3b7"/><circle cx="764.1" cy="1545.3" r="1.6" fill="#b4b4b8"/><circle cx="789.9" cy="1546.4" r="0.9" fill="#949498"/><circle cx="935.7" cy="1560.1" r="0.9" fill="#828286"/><circle cx="730.3" cy="1464.6" r="1.6" fill="#a8a8ac"/><circle cx="1062.4" cy="1433.8" r="0.7" fill="#a8a8ac"/><circle cx="1055.7" cy="1401.3" r="1.1" fill="#a9a9ad"/><circle cx="714.6" cy="1472.4" r="0.7" fill="#aeaeb2"/><circle cx="1058.0" cy="1372.8" r="1.1" fill="#b6b6ba"/><circle cx="1080.5" cy="1349.4" r="0.9" fill="#8c8c90"/><circle cx="747.6" cy="1522.4" r="1.3" fill="#9d9da1"/><circle cx="1021.7" cy="1212.2" r="0.9" fill="#adadb1"/><circle cx="872.4" cy="1579.5" r="1.3" fill="#8a8a8e"/><circle cx="1004.2" cy="1504.6" r="1.6" fill="#a1a1a5"/><circle cx="909.5" cy="1553.2" r="1.1" fill="#8f8f93"/><circle cx="1006.0" cy="1494.4" r="0.7" fill="#89898d"/><circle cx="695.5" cy="1414.5" r="1.6" fill="#8d8d91"/><circle cx="828.1" cy="1577.0" r="1.3" fill="#8d8d91"/><circle cx="1031.0" cy="1506.1" r="1.3" fill="#89898d"/><circle cx="1066.3" cy="1328.6" r="1.6" fill="#959599"/><circle cx="1017.7" cy="1200.7" r="1.1" fill="#a3a3a7"/><circle cx="992.6" cy="1510.4" r="1.6" fill="#b1b1b5"/><circle cx="693.8" cy="1416.5" r="1.1" fill="#959599"/><circle cx="812.7" cy="1544.1" r="1.6" fill="#96969a"/><circle cx="684.9" cy="1397.0" r="0.9" fill="#848488"/><circle cx="1030.0" cy="1225.7" r="1.6" fill="#8b8b8f"/><circle cx="715.1" cy="1471.6" r="0.7" fill="#818185"/><circle cx="1054.6" cy="1244.2" r="1.1" fill="#909094"/><circle cx="1000.6" cy="1503.0" r="1.3" fill="#a7a7ab"/><circle cx="951.5" cy="1539.6" r="1.6" fill="#a9a9ad"/><circle cx="813.1" cy="1570.4" r="0.9" fill="#9a9a9e"/><circle cx="1040.0" cy="1471.7" r="1.1" fill="#87878b"/><circle cx="931.6" cy="1575.1" r="1.1" fill="#8a8a8e"/><circle cx="845.2" cy="1584.0" r="1.6" fill="#b7b7bb"/><circle cx="1067.6" cy="1342.9" r="1.1" fill="#9c9ca0"/><circle cx="975.6" cy="1545.9" r="1.1" fill="#acacb0"/><circle cx="1057.5" cy="1394.1" r="1.1" fill="#a0a0a4"/><circle cx="892.4" cy="1581.3" r="1.1" fill="#8d8d91"/><circle cx="763.6" cy="1510.7" r="0.7" fill="#939397"/><circle cx="1045.5" cy="1483.1" r="1.6" fill="#9e9ea2"/><circle cx="1031.0" cy="1478.5" r="1.6" fill="#99999d"/><circle cx="764.3" cy="1532.8" r="1.6" fill="#ababaf"/><circle cx="957.0" cy="1555.1" r="1.1" fill="#96969a"/><circle cx="712.1" cy="1471.9" r="1.3" fill="#aaaaae"/><circle cx="959.8" cy="1533.3" r="0.9" fill="#919195"/><circle cx="989.5" cy="1541.3" r="1.3" fill="#b6b6ba"/><circle cx="1056.7" cy="1258.7" r="1.1" fill="#8c8c90"/><circle cx="1065.3" cy="1267.6" r="1.3" fill="#b2b2b6"/><circle cx="871.2" cy="1566.7" r="0.9" fill="#9d9da1"/><circle cx="720.6" cy="1446.5" r="0.9" fill="#97979b"/><circle cx="897.8" cy="1578.8" r="0.7" fill="#a3a3a7"/><circle cx="907.5" cy="1571.6" r="1.6" fill="#a2a2a6"/><circle cx="954.2" cy="1565.4" r="1.3" fill="#b7b7bb"/><circle cx="1015.2" cy="1520.0" r="1.6" fill="#9e9ea2"/><circle cx="713.5" cy="1426.8" r="1.3" fill="#848488"/><circle cx="789.0" cy="1557.2" r="1.1" fill="#acacb0"/><circle cx="788.5" cy="1557.1" r="0.9" fill="#86868a"/><circle cx="728.9" cy="1479.3" r="1.6" fill="#8c8c90"/><circle cx="945.0" cy="1564.7" r="0.7" fill="#b5b5b9"/><circle cx="696.4" cy="1428.8" r="1.3" fill="#a0a0a4"/><circle cx="1074.4" cy="1378.5" r="0.7" fill="#828286"/><circle cx="1058.8" cy="1341.7" r="0.7" fill="#99999d"/><circle cx="995.0" cy="1518.7" r="0.9" fill="#ababaf"/><circle cx="774.5" cy="1537.1" r="0.9" fill="#8c8c90"/><circle cx="1079.9" cy="1378.9" r="1.6" fill="#b1b1b5"/><circle cx="692.2" cy="1432.0" r="1.3" fill="#98989c"/><circle cx="790.7" cy="1534.7" r="0.7" fill="#b5b5b9"/><circle cx="846.2" cy="1575.5" r="1.6" fill="#b5b5b9"/><circle cx="1039.8" cy="1232.5" r="0.7" fill="#8c8c90"/><circle cx="963.0" cy="1553.7" r="1.3" fill="#909094"/><circle cx="947.6" cy="1551.1" r="1.6" fill="#a5a5a9"/><circle cx="801.8" cy="1562.4" r="0.7" fill="#88888c"/><circle cx="1058.8" cy="1269.5" r="1.6" fill="#959599"/><circle cx="1060.7" cy="1272.9" r="1.6" fill="#818185"/><circle cx="877.4" cy="1558.9" r="0.7" fill="#aeaeb2"/><circle cx="1047.2" cy="1430.6" r="1.1" fill="#818185"/><circle cx="720.0" cy="1491.2" r="1.3" fill="#909094"/><circle cx="945.2" cy="1576.2" r="0.7" fill="#88888c"/><circle cx="924.6" cy="1559.0" r="1.6" fill="#9d9da1"/><circle cx="1063.8" cy="1437.7" r="0.9" fill="#a4a4a8"/><circle cx="985.3" cy="1551.3" r="0.9" fill="#adadb1"/><circle cx="1053.6" cy="1408.5" r="1.3" fill="#b0b0b4"/><circle cx="1041.0" cy="1233.5" r="0.9" fill="#98989c"/><circle cx="1050.7" cy="1234.1" r="0.7" fill="#9a9a9e"/><circle cx="720.8" cy="1489.6" r="0.7" fill="#929296"/><circle cx="1052.0" cy="1462.7" r="0.7" fill="#afafb3"/><circle cx="729.8" cy="1474.0" r="1.1" fill="#b8b8bc"/><circle cx="769.1" cy="1530.2" r="0.7" fill="#88888c"/><circle cx="1064.3" cy="1340.7" r="0.9" fill="#86868a"/><circle cx="847.3" cy="1585.5" r="1.3" fill="#8b8b8f"/><circle cx="1042.0" cy="1240.0" r="1.1" fill="#828286"/><circle cx="1031.7" cy="1235.7" r="0.7" fill="#97979b"/><circle cx="1051.0" cy="1291.8" r="0.9" fill="#afafb3"/><circle cx="1047.6" cy="1426.4" r="0.9" fill="#838387"/><circle cx="1030.8" cy="1210.8" r="0.7" fill="#aeaeb2"/><circle cx="961.8" cy="1536.5" r="1.6" fill="#b7b7bb"/><circle cx="1027.4" cy="1222.1" r="0.7" fill="#a9a9ad"/><circle cx="779.0" cy="1529.3" r="1.1" fill="#b8b8bc"/><circle cx="797.4" cy="1549.7" r="0.9" fill="#8b8b8f"/><circle cx="965.8" cy="1545.3" r="0.9" fill="#b3b3b7"/><circle cx="930.7" cy="1565.7" r="1.6" fill="#959599"/><circle cx="726.2" cy="1489.2" r="0.9" fill="#a1a1a5"/><circle cx="1044.0" cy="1208.5" r="0.9" fill="#a3a3a7"/><circle cx="1046.0" cy="1416.5" r="1.1" fill="#8b8b8f"/><circle cx="931.8" cy="1554.6" r="0.7" fill="#99999d"/><circle cx="723.3" cy="1459.2" r="0.9" fill="#818185"/><circle cx="1025.0" cy="1507.6" r="0.7" fill="#9a9a9e"/><circle cx="929.8" cy="1559.1" r="1.6" fill="#86868a"/><circle cx="1046.6" cy="1226.5" r="1.6" fill="#a9a9ad"/><circle cx="1040.6" cy="1224.7" r="1.6" fill="#a3a3a7"/><circle cx="821.3" cy="1567.9" r="1.6" fill="#acacb0"/><circle cx="1080.7" cy="1323.3" r="1.6" fill="#919195"/><circle cx="1077.5" cy="1356.1" r="1.6" fill="#96969a"/><circle cx="729.0" cy="1470.3" r="1.1" fill="#a4a4a8"/><circle cx="936.2" cy="1559.8" r="0.9" fill="#9e9ea2"/><circle cx="1063.2" cy="1370.9" r="0.9" fill="#b2b2b6"/><circle cx="911.9" cy="1583.8" r="0.7" fill="#b6b6ba"/><circle cx="831.5" cy="1560.5" r="1.3" fill="#959599"/><circle cx="1055.3" cy="1299.0" r="1.1" fill="#949498"/><circle cx="876.8" cy="1575.2" r="0.7" fill="#929296"/><circle cx="918.5" cy="1578.4" r="0.7" fill="#9a9a9e"/><circle cx="1080.9" cy="1320.3" r="1.1" fill="#9a9a9e"/><circle cx="834.8" cy="1577.0" r="1.3" fill="#9b9b9f"/><circle cx="903.2" cy="1582.3" r="0.9" fill="#89898d"/><circle cx="1074.7" cy="1330.2" r="0.9" fill="#b8b8bc"/><circle cx="930.3" cy="1565.0" r="1.1" fill="#b5b5b9"/><circle cx="744.3" cy="1492.2" r="1.3" fill="#aaaaae"/><circle cx="1076.9" cy="1296.5" r="0.9" fill="#8e8e92"/><circle cx="1043.3" cy="1268.6" r="1.1" fill="#ababaf"/><circle cx="1022.1" cy="1214.0" r="1.1" fill="#909094"/><circle cx="1017.6" cy="1213.1" r="1.6" fill="#808084"/><circle cx="1076.5" cy="1401.2" r="0.9" fill="#a2a2a6"/><circle cx="983.5" cy="1525.3" r="0.7" fill="#a9a9ad"/><circle cx="1046.6" cy="1459.4" r="1.3" fill="#adadb1"/><circle cx="846.2" cy="1555.0" r="1.3" fill="#8c8c90"/><circle cx="1072.2" cy="1319.9" r="1.6" fill="#8b8b8f"/><circle cx="975.9" cy="1537.1" r="1.6" fill="#a3a3a7"/><circle cx="817.7" cy="1558.1" r="1.3" fill="#959599"/><circle cx="811.8" cy="1545.9" r="1.1" fill="#8e8e92"/><circle cx="1057.9" cy="1377.9" r="1.3" fill="#939397"/><circle cx="900.0" cy="1556.2" r="1.6" fill="#86868a"/><circle cx="717.6" cy="1477.9" r="1.1" fill="#858589"/><circle cx="984.0" cy="1540.4" r="0.7" fill="#848488"/><circle cx="1044.1" cy="1248.1" r="1.1" fill="#818185"/><circle cx="1060.5" cy="1245.5" r="0.7" fill="#9c9ca0"/><circle cx="739.7" cy="1515.6" r="1.6" fill="#b5b5b9"/><circle cx="1059.6" cy="1363.5" r="0.7" fill="#b2b2b6"/><circle cx="896.2" cy="1567.0" r="1.6" fill="#959599"/><circle cx="759.2" cy="1520.0" r="1.1" fill="#a0a0a4"/><circle cx="1065.6" cy="1407.6" r="0.9" fill="#a9a9ad"/><circle cx="1046.2" cy="1456.5" r="1.6" fill="#b0b0b4"/><circle cx="861.4" cy="1582.7" r="1.1" fill="#a5a5a9"/><circle cx="1044.8" cy="1443.9" r="1.1" fill="#9e9ea2"/><circle cx="959.9" cy="1562.3" r="1.3" fill="#949498"/><circle cx="808.1" cy="1556.5" r="0.7" fill="#99999d"/><circle cx="1070.5" cy="1277.5" r="1.6" fill="#a3a3a7"/><circle cx="1013.3" cy="1519.5" r="1.3" fill="#818185"/><circle cx="1059.1" cy="1294.4" r="0.9" fill="#9f9fa3"/><circle cx="713.2" cy="1466.7" r="0.7" fill="#858589"/><circle cx="923.3" cy="1573.6" r="0.7" fill="#959599"/><circle cx="832.6" cy="1561.6" r="1.6" fill="#99999d"/><circle cx="769.1" cy="1531.4" r="1.6" fill="#b7b7bb"/><circle cx="1071.1" cy="1396.5" r="0.7" fill="#b4b4b8"/><circle cx="1057.1" cy="1256.0" r="0.7" fill="#98989c"/><circle cx="732.9" cy="1469.9" r="1.3" fill="#8b8b8f"/><circle cx="1062.9" cy="1395.7" r="1.6" fill="#818185"/><circle cx="1069.3" cy="1342.2" r="1.1" fill="#89898d"/><circle cx="876.8" cy="1578.5" r="0.7" fill="#9e9ea2"/><circle cx="711.5" cy="1403.7" r="1.6" fill="#a9a9ad"/><circle cx="1078.6" cy="1351.9" r="0.7" fill="#9e9ea2"/><circle cx="864.6" cy="1578.0" r="0.9" fill="#8b8b8f"/><circle cx="1068.3" cy="1301.2" r="1.1" fill="#aaaaae"/><circle cx="889.8" cy="1580.7" r="0.7" fill="#9d9da1"/><circle cx="801.6" cy="1569.8" r="1.3" fill="#86868a"/><circle cx="910.2" cy="1564.2" r="0.9" fill="#aeaeb2"/><circle cx="1055.1" cy="1261.4" r="1.3" fill="#87878b"/><circle cx="912.7" cy="1559.4" r="1.6" fill="#aaaaae"/><circle cx="1028.1" cy="1498.7" r="0.7" fill="#8e8e92"/><circle cx="701.2" cy="1446.4" r="1.1" fill="#858589"/><circle cx="982.0" cy="1517.8" r="1.3" fill="#9f9fa3"/><circle cx="897.0" cy="1588.2" r="1.3" fill="#b7b7bb"/><circle cx="749.9" cy="1507.0" r="1.1" fill="#9d9da1"/><circle cx="721.4" cy="1433.4" r="1.6" fill="#929296"/><circle cx="1053.8" cy="1251.0" r="1.6" fill="#939397"/><circle cx="1063.1" cy="1323.5" r="1.1" fill="#aeaeb2"/><circle cx="1030.8" cy="1493.1" r="1.1" fill="#818185"/><circle cx="885.7" cy="1579.4" r="0.9" fill="#8b8b8f"/><circle cx="1048.2" cy="1455.4" r="1.1" fill="#9d9da1"/><circle cx="713.4" cy="1444.5" r="0.7" fill="#b6b6ba"/><circle cx="685.0" cy="1403.8" r="1.1" fill="#9b9b9f"/><circle cx="734.8" cy="1514.4" r="0.7" fill="#88888c"/><circle cx="1051.6" cy="1238.8" r="1.1" fill="#818185"/><circle cx="930.3" cy="1549.6" r="1.1" fill="#9e9ea2"/><circle cx="743.6" cy="1492.8" r="0.7" fill="#9f9fa3"/><circle cx="813.7" cy="1569.0" r="1.1" fill="#afafb3"/><circle cx="954.6" cy="1565.5" r="1.6" fill="#97979b"/><circle cx="692.4" cy="1434.0" r="0.9" fill="#838387"/><circle cx="1046.0" cy="1271.4" r="1.1" fill="#858589"/><circle cx="752.2" cy="1501.3" r="1.1" fill="#a9a9ad"/><circle cx="935.8" cy="1556.0" r="0.9" fill="#aeaeb2"/><circle cx="706.8" cy="1462.4" r="1.6" fill="#818185"/><circle cx="712.7" cy="1416.7" r="0.7" fill="#9a9a9e"/><circle cx="1063.8" cy="1305.9" r="0.9" fill="#98989c"/><circle cx="816.3" cy="1565.2" r="1.6" fill="#a0a0a4"/><circle cx="982.8" cy="1539.5" r="0.7" fill="#9f9fa3"/><circle cx="1060.9" cy="1336.6" r="0.7" fill="#98989c"/><circle cx="897.6" cy="1563.5" r="0.7" fill="#a2a2a6"/><circle cx="724.3" cy="1489.4" r="1.6" fill="#b8b8bc"/><circle cx="794.4" cy="1538.8" r="1.6" fill="#9c9ca0"/><circle cx="988.7" cy="1518.2" r="0.7" fill="#a6a6aa"/><circle cx="704.4" cy="1416.5" r="0.7" fill="#b7b7bb"/><circle cx="770.9" cy="1522.3" r="1.1" fill="#87878b"/><circle cx="954.7" cy="1565.3" r="1.6" fill="#a4a4a8"/><circle cx="706.3" cy="1399.7" r="1.3" fill="#b3b3b7"/><circle cx="912.0" cy="1572.8" r="0.7" fill="#a0a0a4"/><circle cx="1016.0" cy="1520.5" r="1.1" fill="#848488"/><circle cx="770.4" cy="1533.7" r="0.9" fill="#a7a7ab"/><circle cx="1063.1" cy="1269.5" r="1.1" fill="#909094"/><circle cx="730.8" cy="1491.6" r="0.7" fill="#b4b4b8"/><circle cx="994.2" cy="1513.5" r="0.9" fill="#939397"/><circle cx="904.3" cy="1564.3" r="0.7" fill="#828286"/><circle cx="1053.3" cy="1312.7" r="1.1" fill="#afafb3"/><circle cx="787.7" cy="1540.6" r="1.6" fill="#8d8d91"/><circle cx="1076.7" cy="1391.8" r="0.9" fill="#98989c"/><circle cx="692.4" cy="1413.4" r="1.3" fill="#86868a"/><circle cx="732.0" cy="1505.3" r="1.6" fill="#a4a4a8"/><circle cx="915.9" cy="1567.0" r="1.6" fill="#818185"/><circle cx="710.9" cy="1413.0" r="1.6" fill="#b5b5b9"/><circle cx="826.1" cy="1552.3" r="0.7" fill="#87878b"/><circle cx="993.6" cy="1515.6" r="1.3" fill="#919195"/><circle cx="1059.9" cy="1303.1" r="1.3" fill="#97979b"/><circle cx="1071.1" cy="1392.2" r="1.3" fill="#828286"/><circle cx="1032.8" cy="1206.2" r="0.9" fill="#929296"/><circle cx="1039.7" cy="1440.3" r="0.9" fill="#8d8d91"/><circle cx="1076.8" cy="1396.1" r="1.3" fill="#818185"/><circle cx="881.0" cy="1574.4" r="0.7" fill="#b4b4b8"/><circle cx="741.8" cy="1517.5" r="1.6" fill="#afafb3"/><circle cx="898.1" cy="1578.2" r="0.9" fill="#a6a6aa"/><circle cx="949.3" cy="1553.5" r="1.1" fill="#b8b8bc"/><circle cx="701.0" cy="1376.2" r="1.1" fill="#b4b4b8"/><circle cx="795.0" cy="1551.1" r="0.9" fill="#88888c"/><circle cx="1030.4" cy="1489.7" r="1.3" fill="#a0a0a4"/><circle cx="713.0" cy="1463.9" r="0.7" fill="#9e9ea2"/><circle cx="1000.2" cy="1534.9" r="1.6" fill="#aaaaae"/><circle cx="748.1" cy="1509.7" r="1.6" fill="#98989c"/><circle cx="957.9" cy="1555.8" r="1.6" fill="#b0b0b4"/><circle cx="1070.4" cy="1365.2" r="1.6" fill="#aaaaae"/><circle cx="801.5" cy="1540.0" r="1.3" fill="#adadb1"/><circle cx="1074.6" cy="1392.3" r="1.6" fill="#818185"/><circle cx="897.6" cy="1560.8" r="0.7" fill="#88888c"/><circle cx="1040.4" cy="1202.4" r="1.3" fill="#b1b1b5"/><circle cx="892.0" cy="1570.6" r="1.6" fill="#afafb3"/><circle cx="1045.4" cy="1233.7" r="0.7" fill="#8d8d91"/><circle cx="798.2" cy="1561.9" r="1.1" fill="#99999d"/><circle cx="934.5" cy="1550.8" r="1.1" fill="#8c8c90"/><circle cx="769.4" cy="1508.4" r="0.9" fill="#87878b"/><circle cx="760.1" cy="1537.4" r="0.7" fill="#ababaf"/><circle cx="1056.1" cy="1253.8" r="1.1" fill="#a2a2a6"/><circle cx="1050.3" cy="1452.2" r="0.7" fill="#949498"/><circle cx="691.3" cy="1427.0" r="0.7" fill="#9a9a9e"/><circle cx="821.4" cy="1544.0" r="0.7" fill="#96969a"/><circle cx="1005.8" cy="1527.3" r="0.9" fill="#aaaaae"/><circle cx="1038.1" cy="1463.4" r="1.3" fill="#87878b"/><circle cx="688.5" cy="1384.4" r="0.9" fill="#9e9ea2"/><circle cx="721.0" cy="1476.5" r="1.6" fill="#afafb3"/><circle cx="1023.0" cy="1216.7" r="0.9" fill="#a8a8ac"/><circle cx="1058.9" cy="1334.3" r="0.7" fill="#8d8d91"/><circle cx="707.9" cy="1444.1" r="1.3" fill="#86868a"/><circle cx="918.7" cy="1560.7" r="0.7" fill="#afafb3"/><circle cx="859.2" cy="1564.9" r="0.7" fill="#808084"/><circle cx="704.8" cy="1389.7" r="1.1" fill="#818185"/><circle cx="1033.0" cy="1457.1" r="1.1" fill="#9c9ca0"/><circle cx="1067.1" cy="1431.7" r="0.9" fill="#b0b0b4"/><circle cx="799.8" cy="1538.0" r="0.9" fill="#8e8e92"/><circle cx="916.2" cy="1558.7" r="0.9" fill="#86868a"/><circle cx="716.5" cy="1469.2" r="1.3" fill="#8d8d91"/><circle cx="939.6" cy="1569.0" r="0.7" fill="#9d9da1"/><circle cx="1034.2" cy="1475.3" r="0.7" fill="#b4b4b8"/><circle cx="1045.5" cy="1273.9" r="1.1" fill="#919195"/><circle cx="690.0" cy="1408.4" r="1.3" fill="#8e8e92"/><circle cx="1058.5" cy="1233.1" r="1.1" fill="#8f8f93"/><circle cx="967.8" cy="1536.7" r="0.9" fill="#808084"/><circle cx="1042.5" cy="1226.0" r="1.1" fill="#a8a8ac"/><circle cx="719.5" cy="1431.1" r="1.1" fill="#b5b5b9"/><circle cx="850.3" cy="1562.9" r="0.9" fill="#a6a6aa"/><circle cx="706.5" cy="1375.8" r="0.9" fill="#a2a2a6"/><circle cx="1045.4" cy="1441.2" r="1.6" fill="#a0a0a4"/><circle cx="960.0" cy="1538.5" r="1.6" fill="#adadb1"/><circle cx="956.9" cy="1561.3" r="1.6" fill="#87878b"/><circle cx="1039.7" cy="1443.1" r="0.9" fill="#aeaeb2"/><circle cx="909.2" cy="1574.0" r="0.7" fill="#89898d"/><circle cx="972.4" cy="1528.8" r="0.9" fill="#aaaaae"/><circle cx="815.1" cy="1543.4" r="1.6" fill="#b2b2b6"/><circle cx="817.5" cy="1542.9" r="0.9" fill="#b1b1b5"/><circle cx="1064.2" cy="1379.4" r="1.6" fill="#98989c"/><circle cx="911.9" cy="1558.7" r="1.3" fill="#8c8c90"/><circle cx="1056.4" cy="1344.0" r="0.7" fill="#929296"/><circle cx="789.2" cy="1545.6" r="0.7" fill="#838387"/><circle cx="746.6" cy="1481.9" r="0.9" fill="#8e8e92"/><circle cx="1051.2" cy="1265.1" r="1.1" fill="#acacb0"/><circle cx="932.9" cy="1576.0" r="1.3" fill="#9b9b9f"/><circle cx="1036.7" cy="1232.4" r="0.9" fill="#9c9ca0"/><circle cx="711.9" cy="1424.6" r="0.7" fill="#9a9a9e"/><circle cx="861.8" cy="1579.1" r="1.3" fill="#86868a"/><circle cx="905.7" cy="1584.7" r="1.6" fill="#9b9b9f"/><circle cx="828.4" cy="1577.6" r="1.3" fill="#a4a4a8"/><circle cx="688.7" cy="1417.5" r="0.7" fill="#858589"/><circle cx="702.9" cy="1375.6" r="1.3" fill="#b1b1b5"/><circle cx="1078.5" cy="1322.2" r="0.9" fill="#aaaaae"/><circle cx="1049.8" cy="1282.6" r="0.9" fill="#b1b1b5"/><circle cx="750.5" cy="1512.1" r="1.1" fill="#9b9b9f"/><circle cx="991.5" cy="1514.9" r="1.6" fill="#87878b"/><circle cx="1060.7" cy="1361.8" r="0.7" fill="#acacb0"/><circle cx="1066.1" cy="1403.8" r="0.7" fill="#929296"/><circle cx="724.4" cy="1487.4" r="1.6" fill="#8e8e92"/><circle cx="780.2" cy="1523.8" r="1.6" fill="#959599"/><circle cx="1032.0" cy="1496.5" r="1.3" fill="#b2b2b6"/><circle cx="1041.0" cy="1214.7" r="0.7" fill="#a0a0a4"/><circle cx="917.7" cy="1558.7" r="1.3" fill="#87878b"/><circle cx="1011.7" cy="1517.0" r="1.1" fill="#96969a"/><circle cx="1050.2" cy="1217.2" r="1.3" fill="#848488"/><circle cx="864.8" cy="1561.9" r="0.9" fill="#818185"/><circle cx="862.4" cy="1556.6" r="1.6" fill="#a8a8ac"/><circle cx="988.6" cy="1518.3" r="0.7" fill="#9b9b9f"/><circle cx="767.8" cy="1506.9" r="0.7" fill="#87878b"/><circle cx="853.1" cy="1567.0" r="1.1" fill="#a4a4a8"/><circle cx="912.4" cy="1565.3" r="1.6" fill="#9e9ea2"/><circle cx="1053.7" cy="1248.7" r="1.3" fill="#b3b3b7"/><circle cx="964.7" cy="1562.7" r="1.6" fill="#939397"/><circle cx="847.7" cy="1559.2" r="1.1" fill="#a1a1a5"/><circle cx="945.2" cy="1550.7" r="0.7" fill="#939397"/><circle cx="1056.2" cy="1416.2" r="0.9" fill="#8e8e92"/><circle cx="730.3" cy="1503.9" r="1.6" fill="#919195"/><circle cx="880.1" cy="1557.2" r="0.9" fill="#b5b5b9"/><circle cx="1019.0" cy="1507.5" r="1.3" fill="#86868a"/><circle cx="708.1" cy="1444.7" r="1.3" fill="#b5b5b9"/><circle cx="1077.7" cy="1364.6" r="1.3" fill="#a1a1a5"/><circle cx="1045.0" cy="1209.3" r="1.3" fill="#a7a7ab"/><circle cx="909.2" cy="1564.7" r="1.3" fill="#a0a0a4"/><circle cx="1062.7" cy="1300.1" r="0.9" fill="#a8a8ac"/><circle cx="752.7" cy="1526.2" r="0.9" fill="#939397"/><circle cx="806.1" cy="1566.0" r="0.7" fill="#9e9ea2"/><circle cx="852.0" cy="1558.4" r="0.7" fill="#86868a"/><circle cx="891.3" cy="1576.7" r="0.7" fill="#9b9b9f"/><circle cx="736.8" cy="1506.3" r="1.6" fill="#89898d"/><circle cx="1077.2" cy="1383.9" r="0.9" fill="#b8b8bc"/><circle cx="692.5" cy="1378.0" r="1.6" fill="#a1a1a5"/><circle cx="889.8" cy="1587.5" r="1.3" fill="#9a9a9e"/><circle cx="1063.2" cy="1445.3" r="0.7" fill="#88888c"/><circle cx="816.5" cy="1547.7" r="0.9" fill="#8d8d91"/><circle cx="1034.7" cy="1219.3" r="0.7" fill="#b5b5b9"/><circle cx="1046.5" cy="1436.6" r="1.6" fill="#828286"/><circle cx="1066.2" cy="1268.0" r="0.7" fill="#a1a1a5"/><circle cx="1066.8" cy="1266.5" r="0.9" fill="#919195"/><circle cx="793.8" cy="1565.9" r="1.3" fill="#acacb0"/><circle cx="1013.7" cy="1523.7" r="0.7" fill="#b8b8bc"/><circle cx="830.0" cy="1562.9" r="0.7" fill="#8b8b8f"/><circle cx="713.1" cy="1467.5" r="0.9" fill="#acacb0"/><circle cx="1063.2" cy="1280.1" r="1.3" fill="#8a8a8e"/><circle cx="780.7" cy="1548.1" r="1.1" fill="#adadb1"/><circle cx="1059.8" cy="1251.3" r="1.1" fill="#acacb0"/><circle cx="797.2" cy="1540.3" r="1.6" fill="#aeaeb2"/><circle cx="730.2" cy="1473.0" r="0.7" fill="#a4a4a8"/><circle cx="1077.3" cy="1319.9" r="0.7" fill="#9a9a9e"/><circle cx="969.3" cy="1531.1" r="1.6" fill="#848488"/><circle cx="1050.0" cy="1275.6" r="1.3" fill="#909094"/><circle cx="925.6" cy="1580.5" r="1.6" fill="#b0b0b4"/><circle cx="1054.3" cy="1224.7" r="0.9" fill="#b4b4b8"/><circle cx="743.2" cy="1519.2" r="1.1" fill="#a4a4a8"/><circle cx="1048.3" cy="1456.8" r="1.6" fill="#9d9da1"/><circle cx="727.8" cy="1481.3" r="1.6" fill="#a0a0a4"/><circle cx="708.3" cy="1410.8" r="1.3" fill="#adadb1"/><circle cx="983.5" cy="1533.4" r="1.1" fill="#a7a7ab"/><circle cx="873.2" cy="1587.4" r="0.9" fill="#909094"/><circle cx="1001.0" cy="1540.2" r="0.7" fill="#949498"/><circle cx="829.3" cy="1559.9" r="1.6" fill="#aeaeb2"/><circle cx="834.6" cy="1577.3" r="1.6" fill="#a8a8ac"/><circle cx="705.0" cy="1401.8" r="1.6" fill="#8c8c90"/><circle cx="954.2" cy="1561.1" r="1.1" fill="#b1b1b5"/><circle cx="786.6" cy="1532.2" r="0.7" fill="#909094"/></g></g>
<!-- fossa -->
<path d="M697.0,1365.0 C697.2,1352.5 698.3,1341.7 700.0,1330.0 C701.7,1318.3 704.7,1305.8 707.0,1295.0 C709.3,1284.2 711.3,1274.2 714.0,1265.0 C716.7,1255.8 719.5,1248.3 723.0,1240.0 C726.5,1231.7 730.5,1223.3 735.0,1215.0 C739.5,1206.7 744.2,1197.8 750.0,1190.0 C755.8,1182.2 761.7,1175.2 770.0,1168.0 C778.3,1160.8 788.3,1153.0 800.0,1147.0 C811.7,1141.0 826.3,1135.7 840.0,1132.0 C853.7,1128.3 867.0,1125.2 882.0,1125.0 C897.0,1124.8 914.5,1127.0 930.0,1131.0 C945.5,1135.0 960.8,1141.2 975.0,1149.0 C989.2,1156.8 1003.3,1166.2 1015.0,1178.0 C1026.7,1189.8 1037.5,1204.7 1045.0,1220.0 C1052.5,1235.3 1057.0,1251.7 1060.0,1270.0 C1063.0,1288.3 1063.0,1308.3 1063.0,1330.0 C1063.0,1351.7 1062.5,1378.3 1060.0,1400.0 C1057.5,1421.7 1053.8,1442.5 1048.0,1460.0 C1042.2,1477.5 1034.7,1492.2 1025.0,1505.0 C1015.3,1517.8 1003.3,1529.2 990.0,1537.0 C976.7,1544.8 962.5,1548.8 945.0,1552.0 C927.5,1555.2 904.2,1556.3 885.0,1556.0 C865.8,1555.7 846.7,1554.0 830.0,1550.0 C813.3,1546.0 798.3,1539.5 785.0,1532.0 C771.7,1524.5 760.2,1514.0 750.0,1505.0 C739.8,1496.0 731.0,1488.3 724.0,1478.0 C717.0,1467.7 712.2,1455.2 708.0,1443.0 C703.8,1430.8 700.8,1418.0 699.0,1405.0 C697.2,1392.0 696.8,1377.5 697.0,1365.0 Z" fill="url(#gFossa)"/>
<path d="M697.0,1365.0 C697.2,1352.5 698.3,1341.7 700.0,1330.0 C701.7,1318.3 704.7,1305.8 707.0,1295.0 C709.3,1284.2 711.3,1274.2 714.0,1265.0 C716.7,1255.8 719.5,1248.3 723.0,1240.0 C726.5,1231.7 730.5,1223.3 735.0,1215.0 C739.5,1206.7 744.2,1197.8 750.0,1190.0 C755.8,1182.2 761.7,1175.2 770.0,1168.0 C778.3,1160.8 788.3,1153.0 800.0,1147.0 C811.7,1141.0 826.3,1135.7 840.0,1132.0 C853.7,1128.3 867.0,1125.2 882.0,1125.0 C897.0,1124.8 914.5,1127.0 930.0,1131.0 C945.5,1135.0 960.8,1141.2 975.0,1149.0 C989.2,1156.8 1003.3,1166.2 1015.0,1178.0 C1026.7,1189.8 1037.5,1204.7 1045.0,1220.0 C1052.5,1235.3 1057.0,1251.7 1060.0,1270.0 C1063.0,1288.3 1063.0,1308.3 1063.0,1330.0 C1063.0,1351.7 1062.5,1378.3 1060.0,1400.0 C1057.5,1421.7 1053.8,1442.5 1048.0,1460.0 C1042.2,1477.5 1034.7,1492.2 1025.0,1505.0 C1015.3,1517.8 1003.3,1529.2 990.0,1537.0 C976.7,1544.8 962.5,1548.8 945.0,1552.0 C927.5,1555.2 904.2,1556.3 885.0,1556.0 C865.8,1555.7 846.7,1554.0 830.0,1550.0 C813.3,1546.0 798.3,1539.5 785.0,1532.0 C771.7,1524.5 760.2,1514.0 750.0,1505.0 C739.8,1496.0 731.0,1488.3 724.0,1478.0 C717.0,1467.7 712.2,1455.2 708.0,1443.0 C703.8,1430.8 700.8,1418.0 699.0,1405.0 C697.2,1392.0 696.8,1377.5 697.0,1365.0 Z" fill="none" stroke="#a8a8ae" stroke-width="2" clip-path="url(#cBottom)"/>
<g clip-path="url(#cFossa)">
<ellipse cx="890" cy="1510" rx="150" ry="55" fill="#d9d9dc" filter="url(#blur8)"/>
<path d="M703,1260 C705,1380 718,1450 742,1500 L765,1500 C745,1420 740,1320 765,1240 Z" fill="#a2a2aa" opacity="0.8" filter="url(#blur5)"/>
<path d="M712,1370 C716,1430 732,1475 765,1515" stroke="#9a9aa2" stroke-width="22" fill="none" opacity="0.7" filter="url(#blur8)"/>
<path d="M770,1505 C745,1460 738,1410 750,1350" stroke="#cbcbcf" stroke-width="20" fill="none" opacity="0.8" filter="url(#blur5)"/>
<path d="M712,1240 C740,1170 810,1138 890,1138 C960,1140 1010,1160 1045,1195" stroke="#8a8a93" stroke-width="26" fill="none" opacity="0.55" filter="url(#blur5)"/>
<path d="M900,1222 C935,1235 975,1255 1010,1285 C1035,1308 1052,1335 1062,1370" stroke="#8a8a93" stroke-width="40" fill="none" opacity="0.7" filter="url(#blur8)"/>
<path d="M1035,1300 C1050,1340 1058,1400 1052,1460" stroke="#c4c4ca" stroke-width="22" fill="none" opacity="0.8" filter="url(#blur5)"/>
<path d="M912,1222 C930,1260 948,1300 956,1315 C968,1338 978,1360 988,1395 C996,1425 1004,1460 1010,1500" stroke="#90909a" stroke-width="13" fill="none" opacity="0.8" filter="url(#blur3)"/>
<path d="M925,1205 C945,1228 964,1255 978,1276 C992,1296 1010,1320 1024,1345 C1036,1370 1044,1400 1050,1440" stroke="#dcdce0" stroke-width="17" fill="none" opacity="0.95" stroke-linecap="round" filter="url(#blur3)"/>
<path d="M926,1282 C935,1310 940,1340 945,1370 C950,1410 956,1450 964,1495" stroke="#9c9ca4" stroke-width="10" fill="none" opacity="0.75" filter="url(#blur3)"/>
<path d="M922,1280 C945,1320 964,1365 975,1400 C985,1430 992,1465 996,1515" stroke="#d8d8dc" stroke-width="17" fill="none" opacity="0.95" stroke-linecap="round" filter="url(#blur5)"/>
<path d="M895,1199 C940,1193 990,1196 1060,1210" stroke="#d3d3d8" stroke-width="20" fill="none" opacity="0.9" stroke-linecap="round" filter="url(#blur3)"/>
</g>
<!-- biceps tendon -->
<path d="M775,1262 C782,1214 822,1168 868,1152 C900,1143 930,1143 955,1146 L975,1185 C940,1183 905,1186 878,1194 C845,1204 815,1230 800,1262 Z" fill="#d2d2d7"/>
<path d="M790,1225 C815,1190 860,1165 930,1158" stroke="#e2e2e6" stroke-width="8" fill="none" opacity="0.8" filter="url(#blur3)"/>
<ellipse cx="958" cy="1166" rx="27" ry="19" transform="rotate(28 958 1166)" fill="url(#pSpeck2)" opacity="0.75"/>
<ellipse cx="1030" cy="1212" rx="10" ry="30" transform="rotate(-28 1030 1212)" fill="url(#pSpeck2)" opacity="0.55"/>
<ellipse cx="1055" cy="1388" rx="10" ry="40" transform="rotate(8 1055 1388)" fill="url(#pSpeck)" opacity="0.95"/>
<!-- glenoid labrum ring -->
<path d="M857.2,1206.0 C864.5,1207.7 872.9,1212.7 879.2,1219.3 C885.6,1225.9 889.9,1235.9 895.3,1245.7 C900.7,1255.5 906.8,1266.4 911.4,1277.9 C916.0,1289.4 920.3,1302.3 923.2,1314.5 C926.1,1326.7 928.0,1339.0 929.0,1351.2 C930.0,1363.4 930.0,1375.6 929.0,1387.8 C928.0,1400.0 926.1,1413.4 923.2,1424.4 C920.3,1435.4 916.3,1445.2 911.4,1453.7 C906.5,1462.2 900.4,1469.8 893.8,1475.7 C887.2,1481.6 879.2,1486.0 871.9,1488.9 C864.6,1491.8 857.2,1492.8 849.9,1493.3 C842.6,1493.8 836.4,1494.0 827.9,1491.8 C819.4,1489.6 807.1,1485.2 798.6,1480.1 C790.1,1475.0 783.0,1469.0 776.6,1461.0 C770.2,1453.0 764.6,1442.8 760.5,1431.8 C756.4,1420.8 753.4,1408.5 751.7,1395.1 C750.0,1381.7 749.6,1365.8 750.3,1351.2 C751.0,1336.6 752.9,1320.6 756.1,1307.2 C759.3,1293.8 763.9,1282.1 769.3,1270.6 C774.7,1259.1 781.1,1247.0 788.4,1238.4 C795.7,1229.9 805.5,1224.2 813.3,1219.3 C821.1,1214.4 827.9,1211.2 835.2,1209.0 C842.5,1206.8 849.9,1204.3 857.2,1206.0 Z" fill="url(#gLab)"/>
<!-- glenoid face -->
<path d="M842.6,1241.0 C848.7,1242.8 861.6,1245.3 867.5,1251.5 C873.4,1257.7 874.5,1268.6 877.7,1277.9 C880.9,1287.2 883.1,1297.4 886.5,1307.2 C889.9,1317.0 895.3,1326.7 898.2,1336.5 C901.1,1346.3 903.4,1356.0 904.1,1365.8 C904.8,1375.6 904.1,1385.3 902.6,1395.1 C901.1,1404.9 898.5,1416.6 895.3,1424.4 C892.1,1432.2 888.7,1437.3 883.6,1442.0 C878.5,1446.7 871.3,1450.3 864.5,1452.3 C857.7,1454.2 849.9,1454.0 842.6,1453.7 C835.3,1453.5 827.9,1453.2 820.6,1450.8 C813.3,1448.4 804.5,1444.7 798.6,1439.1 C792.7,1433.5 788.6,1425.6 785.4,1417.1 C782.2,1408.5 780.8,1397.6 779.6,1387.8 C778.4,1378.0 777.9,1368.3 778.1,1358.5 C778.3,1348.7 779.5,1339.0 781.0,1329.2 C782.5,1319.4 784.9,1308.9 786.9,1299.9 C788.9,1290.9 790.3,1282.3 792.7,1275.0 C795.1,1267.7 797.6,1261.0 801.5,1255.9 C805.4,1250.8 811.3,1246.8 816.2,1244.2 C821.1,1241.6 826.4,1241.0 830.8,1240.5 C835.2,1240.0 836.5,1239.2 842.6,1241.0 Z" fill="url(#gGlen)"/>
<!-- bottom dark speckled ovals -->
<ellipse cx="985" cy="1531" rx="13" ry="28" transform="rotate(55 985 1531)" fill="url(#pSpeck2)" opacity="0.85"/>
<ellipse cx="757" cy="1527" rx="10" ry="22" transform="rotate(-50 757 1527)" fill="url(#pSpeck2)" opacity="0.55"/>
<!-- red labrum ring -->
<g filter="url(#tex)">
<path d="M722.0,1512.0 C721.6,1510.8 724.1,1511.7 719.6,1505.0 C715.1,1498.3 702.4,1483.0 694.7,1472.0 C687.0,1461.0 678.7,1450.0 673.2,1439.0 C667.7,1428.0 664.0,1419.8 661.6,1406.0 C659.2,1392.2 659.2,1372.7 659.1,1356.0 C659.0,1339.3 659.9,1318.7 661.0,1306.0 C662.1,1293.3 664.1,1289.0 666.0,1280.0 C667.9,1271.0 670.2,1260.7 672.5,1252.0 C674.8,1243.3 676.7,1235.2 679.5,1228.0 C682.3,1220.8 684.8,1216.1 689.3,1209.0 C693.8,1201.9 700.7,1192.4 706.4,1185.3 C712.1,1178.2 717.7,1172.6 723.4,1166.4 C729.1,1160.2 733.4,1154.4 740.5,1148.3 C747.6,1142.2 756.0,1136.0 765.9,1130.0 C775.8,1124.0 787.6,1117.0 800.0,1112.3 C812.4,1107.6 827.2,1104.6 840.5,1102.0 C853.8,1099.4 868.1,1096.9 880.0,1096.5 C891.9,1096.1 902.0,1097.3 912.0,1099.4 C922.0,1101.5 932.3,1105.7 940.0,1109.0 C947.7,1112.3 955.0,1117.3 958.0,1119.0 L952,1134 C946.7,1131.8 932.0,1124.2 920.0,1121.0 C908.0,1117.8 893.2,1114.5 880.0,1114.5 C866.8,1114.5 853.8,1117.3 840.5,1121.0 C827.2,1124.7 813.4,1129.8 800.0,1136.5 C786.6,1143.2 769.3,1154.1 760.0,1161.0 C750.7,1167.9 750.1,1170.5 744.3,1177.7 C738.5,1184.9 730.5,1195.9 725.3,1204.3 C720.1,1212.7 716.5,1220.1 713.0,1228.0 C709.5,1235.9 706.9,1243.0 704.5,1251.7 C702.1,1260.4 701.0,1270.3 698.8,1280.0 C696.5,1289.7 693.3,1297.3 691.0,1310.0 C688.7,1322.7 685.5,1340.0 685.0,1356.0 C684.5,1372.0 685.6,1391.1 688.1,1405.9 C690.6,1420.7 696.0,1433.5 700.0,1445.0 C704.0,1456.5 708.3,1465.8 712.0,1475.0 C715.7,1484.2 719.7,1493.8 722.0,1500.0 C724.3,1506.2 725.3,1510.0 726.0,1512.0 Z" fill="#ae4236"/>
<path d="M1052.0,1218.0 C1055.3,1219.3 1065.8,1222.3 1072.0,1226.0 C1078.2,1229.7 1084.5,1234.0 1089.0,1240.0 C1093.5,1246.0 1096.7,1253.7 1099.0,1262.0 C1101.3,1270.3 1101.9,1279.8 1103.0,1290.0 C1104.1,1300.2 1105.3,1310.7 1105.6,1323.0 C1105.8,1335.3 1105.4,1351.2 1104.5,1364.0 C1103.6,1376.8 1102.4,1390.7 1100.0,1400.0 C1097.6,1409.3 1095.7,1415.0 1090.0,1420.0 C1084.3,1425.0 1070.0,1428.3 1066.0,1430.0 C1066.8,1423.3 1069.7,1405.0 1071.0,1390.0 C1072.3,1375.0 1073.8,1356.7 1074.0,1340.0 C1074.2,1323.3 1073.7,1305.8 1072.0,1290.0 C1070.3,1274.2 1067.3,1257.0 1064.0,1245.0 C1060.7,1233.0 1054.0,1222.5 1052.0,1218.0 Z" fill="#ae4236"/>
</g>
<path d="M722.0,1512.0 C721.6,1510.8 724.1,1511.7 719.6,1505.0 C715.1,1498.3 702.4,1483.0 694.7,1472.0 C687.0,1461.0 678.7,1450.0 673.2,1439.0 C667.7,1428.0 664.0,1419.8 661.6,1406.0 C659.2,1392.2 659.2,1372.7 659.1,1356.0 C659.0,1339.3 659.9,1318.7 661.0,1306.0 C662.1,1293.3 664.1,1289.0 666.0,1280.0 C667.9,1271.0 670.2,1260.7 672.5,1252.0 C674.8,1243.3 676.7,1235.2 679.5,1228.0 C682.3,1220.8 684.8,1216.1 689.3,1209.0 C693.8,1201.9 700.7,1192.4 706.4,1185.3 C712.1,1178.2 717.7,1172.6 723.4,1166.4 C729.1,1160.2 733.4,1154.4 740.5,1148.3 C747.6,1142.2 756.0,1136.0 765.9,1130.0 C775.8,1124.0 787.6,1117.0 800.0,1112.3 C812.4,1107.6 827.2,1104.6 840.5,1102.0 C853.8,1099.4 868.1,1096.9 880.0,1096.5 C891.9,1096.1 902.0,1097.3 912.0,1099.4 C922.0,1101.5 932.3,1105.7 940.0,1109.0 C947.7,1112.3 955.0,1117.3 958.0,1119.0 L952,1134 C946.7,1131.8 932.0,1124.2 920.0,1121.0 C908.0,1117.8 893.2,1114.5 880.0,1114.5 C866.8,1114.5 853.8,1117.3 840.5,1121.0 C827.2,1124.7 813.4,1129.8 800.0,1136.5 C786.6,1143.2 769.3,1154.1 760.0,1161.0 C750.7,1167.9 750.1,1170.5 744.3,1177.7 C738.5,1184.9 730.5,1195.9 725.3,1204.3 C720.1,1212.7 716.5,1220.1 713.0,1228.0 C709.5,1235.9 706.9,1243.0 704.5,1251.7 C702.1,1260.4 701.0,1270.3 698.8,1280.0 C696.5,1289.7 693.3,1297.3 691.0,1310.0 C688.7,1322.7 685.5,1340.0 685.0,1356.0 C684.5,1372.0 685.6,1391.1 688.1,1405.9 C690.6,1420.7 696.0,1433.5 700.0,1445.0 C704.0,1456.5 708.3,1465.8 712.0,1475.0 C715.7,1484.2 719.7,1493.8 722.0,1500.0 C724.3,1506.2 725.3,1510.0 726.0,1512.0 Z" fill="none" stroke="#7e1d19" stroke-width="2.4" opacity="0.85" filter="url(#blur1)"/>
<path d="M1052.0,1218.0 C1055.3,1219.3 1065.8,1222.3 1072.0,1226.0 C1078.2,1229.7 1084.5,1234.0 1089.0,1240.0 C1093.5,1246.0 1096.7,1253.7 1099.0,1262.0 C1101.3,1270.3 1101.9,1279.8 1103.0,1290.0 C1104.1,1300.2 1105.3,1310.7 1105.6,1323.0 C1105.8,1335.3 1105.4,1351.2 1104.5,1364.0 C1103.6,1376.8 1102.4,1390.7 1100.0,1400.0 C1097.6,1409.3 1095.7,1415.0 1090.0,1420.0 C1084.3,1425.0 1070.0,1428.3 1066.0,1430.0 C1066.8,1423.3 1069.7,1405.0 1071.0,1390.0 C1072.3,1375.0 1073.8,1356.7 1074.0,1340.0 C1074.2,1323.3 1073.7,1305.8 1072.0,1290.0 C1070.3,1274.2 1067.3,1257.0 1064.0,1245.0 C1060.7,1233.0 1054.0,1222.5 1052.0,1218.0 Z" fill="none" stroke="#7e1d19" stroke-width="2.4" opacity="0.85" filter="url(#blur1)"/>
<line x1="659" y1="1366" x2="686" y2="1366" stroke="#f0d8d4" stroke-width="1.6"/>
<line x1="738" y1="1146" x2="756" y2="1168" stroke="#6e1612" stroke-width="1.5"/>
<!-- coracoid tan band -->
<path d="M945.0,1111.0 C944.3,1107.3 953.0,1106.5 958.0,1105.5 C963.0,1104.5 968.3,1102.6 975.0,1105.0 C981.7,1107.4 991.2,1114.8 998.0,1120.0 C1004.8,1125.2 1010.3,1131.0 1016.0,1136.0 C1021.7,1141.0 1026.0,1144.3 1032.0,1150.0 C1038.0,1155.7 1045.3,1163.3 1052.0,1170.0 C1058.7,1176.7 1064.8,1182.5 1072.0,1190.0 C1079.2,1197.5 1088.7,1208.7 1095.0,1215.0 C1101.3,1221.3 1108.8,1223.5 1110.0,1228.0 C1111.2,1232.5 1105.8,1239.2 1102.0,1242.0 C1098.2,1244.8 1092.2,1245.2 1087.3,1244.7 C1082.4,1244.2 1077.4,1242.2 1072.5,1238.8 C1067.6,1235.3 1062.6,1229.2 1057.7,1224.0 C1052.8,1218.8 1047.9,1213.4 1042.9,1207.7 C1038.0,1202.0 1032.0,1194.6 1028.0,1190.0 C1024.0,1185.4 1022.1,1183.6 1018.6,1180.0 C1015.1,1176.4 1011.5,1173.1 1007.0,1168.6 C1002.5,1164.1 996.7,1158.2 991.6,1153.2 C986.5,1148.2 981.1,1142.8 976.2,1138.6 C971.3,1134.4 967.6,1132.4 962.4,1127.8 C957.2,1123.2 945.7,1114.7 945.0,1111.0 Z" fill="#d9a77a"/>
<path d="M958,1114 C985,1135 1020,1165 1050,1198 C1065,1214 1080,1228 1092,1236" stroke="#ebbd92" stroke-width="9" fill="none" opacity="0.75" filter="url(#blur3)"/>
<!-- ligament -->
<path d="M900.0,1001.0 C904.0,1001.7 917.0,1001.9 924.0,1005.0 C931.0,1008.1 936.2,1014.2 942.0,1019.6 C947.8,1025.0 954.0,1031.2 958.5,1037.4 C963.0,1043.6 966.0,1050.8 969.0,1056.6 C972.0,1062.4 973.8,1067.9 976.3,1072.0 C978.8,1076.1 980.8,1077.7 984.0,1081.0 C987.2,1084.3 991.7,1087.7 995.5,1092.0 C999.3,1096.3 1002.5,1101.9 1007.0,1107.0 C1011.5,1112.1 1017.2,1117.9 1022.4,1122.4 C1027.6,1126.9 1031.7,1129.9 1038.0,1134.0 C1044.3,1138.1 1053.0,1142.6 1060.0,1147.0 C1067.0,1151.4 1073.5,1155.4 1080.0,1160.3 C1086.5,1165.2 1093.8,1171.2 1099.2,1176.6 C1104.6,1182.0 1109.3,1187.7 1112.5,1192.9 C1115.7,1198.1 1117.7,1203.0 1118.4,1207.7 C1119.2,1212.4 1118.5,1217.3 1117.0,1221.0 C1115.5,1224.7 1113.3,1227.5 1109.6,1230.0 C1105.9,1232.5 1097.3,1235.0 1094.8,1236.0 C1093.7,1235.3 1090.5,1234.7 1088.0,1232.0 C1085.5,1229.3 1083.8,1225.4 1080.0,1219.6 C1076.2,1213.8 1069.7,1202.7 1065.0,1197.3 C1060.3,1191.9 1055.9,1189.9 1052.0,1187.0 C1048.1,1184.1 1044.7,1183.1 1041.7,1180.0 C1038.7,1176.9 1037.2,1172.4 1034.0,1168.6 C1030.8,1164.8 1026.9,1161.5 1022.4,1157.0 C1017.9,1152.5 1012.1,1146.7 1007.0,1141.6 C1001.9,1136.5 997.4,1131.6 991.6,1126.2 C985.8,1120.8 977.5,1114.0 972.4,1109.3 C967.3,1104.5 965.3,1100.9 960.8,1097.7 C956.3,1094.5 950.5,1092.2 945.4,1090.0 C940.3,1087.8 935.9,1086.9 930.0,1084.6 C924.1,1082.3 916.2,1078.8 910.0,1076.0 C903.8,1073.2 897.0,1074.0 893.0,1068.0 C889.0,1062.0 884.8,1051.2 886.0,1040.0 C887.2,1028.8 897.7,1007.5 900.0,1001.0 Z" fill="url(#gLig)"/>
<g clip-path="url(#cLig)" fill="none" stroke-width="1.6">
<path d="M900,1020 C930,1045 955,1070 985,1100 C1020,1130 1060,1160 1100,1195" stroke="#efefef" opacity="0.8"/>
<path d="M905,1035 C935,1060 960,1085 995,1112 C1030,1140 1065,1170 1095,1215" stroke="#bcbcc0" opacity="0.6"/>
<path d="M915,1010 C945,1030 965,1055 990,1088 C1015,1115 1055,1140 1108,1180" stroke="#c2c2c6" opacity="0.6"/>
<path d="M895,1050 C925,1070 955,1092 985,1118 C1015,1145 1050,1180 1080,1225" stroke="#efefef" opacity="0.7"/>
<path d="M925,1008 C950,1025 970,1045 985,1075 C1000,1100 1040,1125 1112,1200" stroke="#eeeeee" opacity="0.7"/>
<path d="M890,1062 C915,1075 945,1092 975,1112" stroke="#c8c8cc" opacity="0.6"/>
<path d="M1040,1150 C1065,1170 1090,1195 1112,1222" stroke="#e9e9ea" opacity="0.7"/>
</g>
<path d="M955,1048 C972,1080 990,1100 1012,1120 C1040,1145 1075,1170 1105,1205" stroke="#c6c6ca" stroke-width="1.5" fill="none" opacity="0.7"/>
<path d="M935,1062 C955,1085 985,1105 1010,1128 C1035,1150 1065,1180 1090,1222" stroke="#c8c8cc" stroke-width="1.5" fill="none" opacity="0.6"/>
<path d="M1060,1165 C1080,1180 1098,1200 1108,1225" stroke="#bdbdc2" stroke-width="1.5" fill="none" opacity="0.6"/>
<path d="M942.0,1019.6 C944.8,1022.6 954.0,1031.2 958.5,1037.4 C963.0,1043.6 966.0,1050.8 969.0,1056.6 C972.0,1062.4 973.8,1067.9 976.3,1072.0 C978.8,1076.1 980.8,1077.7 984.0,1081.0 C987.2,1084.3 991.7,1087.7 995.5,1092.0 C999.3,1096.3 1002.5,1101.9 1007.0,1107.0 C1011.5,1112.1 1017.2,1117.9 1022.4,1122.4 C1027.6,1126.9 1031.7,1129.9 1038.0,1134.0 C1044.3,1138.1 1053.0,1142.6 1060.0,1147.0 C1067.0,1151.4 1073.5,1155.4 1080.0,1160.3 C1086.5,1165.2 1093.8,1171.2 1099.2,1176.6 C1104.6,1182.0 1109.3,1187.7 1112.5,1192.9 C1115.7,1198.1 1117.7,1203.0 1118.4,1207.7 C1119.2,1212.4 1118.5,1217.3 1117.0,1221.0 C1115.5,1224.7 1113.3,1227.5 1109.6,1230.0 C1105.9,1232.5 1097.3,1235.0 1094.8,1236.0" fill="none" stroke="#9a9aa0" stroke-width="1" opacity="0.5"/>
<!-- label boxes -->
<rect x="708" y="1060" width="88" height="25" rx="3" fill="#fff" filter="url(#blur2)"/>
<rect x="800" y="1351" width="85" height="26" rx="3" fill="#fff" filter="url(#blur2)"/>
<rect x="703" y="1602" width="86" height="28" rx="3" fill="#fff" filter="url(#blur2)"/>
<!-- leader lines -->
<g stroke="#1a1a1a" stroke-width="1.9" fill="none">
<polyline points="959,1076.2 1023.4,1057.1 1146.6,1057.1"/>
<polyline points="902.8,1160.8 1024.2,1124.3 1146.6,1124.3"/>
<polyline points="993.5,1200.6 1146.6,1200.6"/>
<polyline points="997.3,1298.4 1146.6,1298.4"/>
<polyline points="979,1409.2 1146.6,1409.2"/>
<polyline points="855.6,1468.9 933,1498.7 1076,1498.7"/>
<polyline points="875.9,1573.7 952.4,1592.8 1016.3,1592.8"/>
<polyline points="747.3,1485.7 831,1667.5 858,1667.5"/>
</g>
<g fill="#111">
<circle cx="959" cy="1076.2" r="3.6"/>
<circle cx="902.8" cy="1160.8" r="3.6"/>
<circle cx="993.5" cy="1200.6" r="3.6"/>
<circle cx="997.3" cy="1298.4" r="3.6"/>
<circle cx="979" cy="1409.2" r="3.6"/>
<circle cx="855.6" cy="1468.9" r="3.6"/>
<circle cx="875.9" cy="1573.7" r="3.6"/>
<circle cx="747.3" cy="1485.7" r="3.6"/>
</g>
<!-- labels -->
<g class="sans" font-size="17" fill="#2a2a2a">
<text x="1154.7" y="1049.2" textLength="140" lengthAdjust="spacingAndGlyphs">Coracoacromial</text>
<text x="1154.7" y="1070.4" textLength="78" lengthAdjust="spacingAndGlyphs">Ligament</text>
<text x="1154.7" y="1126.3" textLength="121.3" lengthAdjust="spacingAndGlyphs">Biceps Tendon</text>
<text x="1154.7" y="1182.2" textLength="68" lengthAdjust="spacingAndGlyphs">Superior</text>
<text x="1154.7" y="1203.3" textLength="120.8" lengthAdjust="spacingAndGlyphs">Glenohumeral</text>
<text x="1154.7" y="1224.5" textLength="78" lengthAdjust="spacingAndGlyphs">Ligament</text>
<text x="1154.7" y="1280.7" textLength="57.4" lengthAdjust="spacingAndGlyphs">Middle</text>
<text x="1154.7" y="1301.9" textLength="120.8" lengthAdjust="spacingAndGlyphs">Glenohumeral</text>
<text x="1154.7" y="1323" textLength="78" lengthAdjust="spacingAndGlyphs">Ligament</text>
<text x="1154.7" y="1380.9" textLength="115.3" lengthAdjust="spacingAndGlyphs">Anterior Band</text>
<text x="1154.7" y="1402.1" textLength="110.3" lengthAdjust="spacingAndGlyphs">of the Inferior</text>
<text x="1154.7" y="1423.2" textLength="120.8" lengthAdjust="spacingAndGlyphs">Glenohumeral</text>
<text x="1154.7" y="1444.4" textLength="78" lengthAdjust="spacingAndGlyphs">Ligament</text>
<text x="1084.5" y="1502.7" textLength="63.6" lengthAdjust="spacingAndGlyphs">Labrum</text>
<text x="1023.9" y="1580.5" textLength="56" lengthAdjust="spacingAndGlyphs">Inferior</text>
<text x="1023.9" y="1601.3" textLength="121.3" lengthAdjust="spacingAndGlyphs">Glenohumeral</text>
<text x="1023.9" y="1622.2" textLength="78.7" lengthAdjust="spacingAndGlyphs">Ligament</text>
<text x="863.7" y="1644" textLength="119.4" lengthAdjust="spacingAndGlyphs">Posterior Band</text>
<text x="863.7" y="1664.8" textLength="111.8" lengthAdjust="spacingAndGlyphs">of the Inferior</text>
<text x="863.7" y="1685.7" textLength="121.3" lengthAdjust="spacingAndGlyphs">Glenohumeral</text>
<text x="863.7" y="1706.5" textLength="78.7" lengthAdjust="spacingAndGlyphs">Ligament</text>
<text x="712.8" y="1077" textLength="80.4" lengthAdjust="spacingAndGlyphs">Acromion</text>
<text x="809.2" y="1370.2" textLength="67.2" lengthAdjust="spacingAndGlyphs">Glenoid</text>
<text x="710.2" y="1621.8" textLength="70.2" lengthAdjust="spacingAndGlyphs">Scapula</text>
</g>
</g>
<!-- Superior Labrum callout -->
<ellipse cx="436" cy="1257.7" rx="140.3" ry="63.5" fill="none" stroke="#cc1d1d" stroke-width="3"/>
<text x="338.2" y="1264.9" class="serif" font-size="32" fill="#000" textLength="229.4" lengthAdjust="spacingAndGlyphs">Superior Labrum</text>
<path d="M579,1253 L741,1253 L741,1248 L801,1258.2 L741,1269 L741,1263.2 L579,1263.2 Z" fill="#f00000" stroke="#111" stroke-width="2" stroke-linejoin="miter"/>

<!--/DIAGRAM-->
<!-- FOOTER -->
<g id="logo">
<path d="M262.4,1959.8 L306.4,1923.3 L307.6,1923.3 L307.6,1948 A11.8,11.8 0 0 1 307.6,1971.6 L307.6,1997.1 L306.4,1997.1 Z" fill="#3371ad"/>
<path d="M319.4,1923.3 L320,1923.3 L362.7,1959.8 L320,1997.1 L319.4,1997.1 L319.4,1971.6 A11.8,11.8 0 0 0 319.4,1948 Z" fill="#e8b042"/>
</g>
<g class="sans" fill="#111">
<text x="126.2" y="2031.1" font-size="22.5" textLength="390.6" lengthAdjust="spacingAndGlyphs">Orthopaedic Surgery &amp; Sports Medicine</text>
<text x="156" y="2056.7" font-size="22.5" textLength="331" lengthAdjust="spacingAndGlyphs">Teaching &amp; Research Foundation</text>
<text x="239.4" y="2087.1" font-size="28" font-style="italic" textLength="160.5" lengthAdjust="spacing">otrfund.org</text>
<text x="560" y="2127.6" font-size="25.5" textLength="742" lengthAdjust="spacingAndGlyphs">© 2023 Steven Chudik MD Shoulder, Knee &amp; Sports Medicine. All rights reserved.</text>
<text x="1388.4" y="2114.6" font-size="23.5" textLength="188" lengthAdjust="spacingAndGlyphs">Schedule online now</text>
</g>
<g class="serif" fill="#4257a9">
<text x="629" y="2024.6" font-size="31" textLength="185.7" lengthAdjust="spacingAndGlyphs">630-324-0402</text>
<circle cx="837.5" cy="2013.6" r="9.3"/>
<text x="859.3" y="2024.3" font-size="31" font-weight="bold" textLength="375" lengthAdjust="spacingAndGlyphs">contactus@chudikmd.com</text>
<text x="738.9" y="2067.1" font-size="40" font-weight="bold" font-style="italic" textLength="387" lengthAdjust="spacing">stevenchudikmd.com</text>
</g>
<g transform="translate(1396.1,1911.1) scale(6.062)"><path d="M0 0h7v1h-7zM9 0h1v1h-1zM12 0h4v1h-4zM17 0h3v1h-3zM22 0h7v1h-7zM0 1h1v1h-1zM6 1h1v1h-1zM8 1h1v1h-1zM11 1h2v1h-2zM14 1h2v1h-2zM20 1h1v1h-1zM22 1h1v1h-1zM28 1h1v1h-1zM0 2h1v1h-1zM2 2h3v1h-3zM6 2h1v1h-1zM8 2h5v1h-5zM17 2h1v1h-1zM22 2h1v1h-1zM24 2h3v1h-3zM28 2h1v1h-1zM0 3h1v1h-1zM2 3h3v1h-3zM6 3h1v1h-1zM9 3h3v1h-3zM14 3h3v1h-3zM18 3h1v1h-1zM22 3h1v1h-1zM24 3h3v1h-3zM28 3h1v1h-1zM0 4h1v1h-1zM2 4h3v1h-3zM6 4h1v1h-1zM8 4h1v1h-1zM13 4h6v1h-6zM22 4h1v1h-1zM24 4h3v1h-3zM28 4h1v1h-1zM0 5h1v1h-1zM6 5h1v1h-1zM8 5h2v1h-2zM11 5h1v1h-1zM13 5h1v1h-1zM15 5h1v1h-1zM18 5h3v1h-3zM22 5h1v1h-1zM28 5h1v1h-1zM0 6h7v1h-7zM8 6h1v1h-1zM10 6h1v1h-1zM12 6h1v1h-1zM14 6h1v1h-1zM16 6h1v1h-1zM18 6h1v1h-1zM20 6h1v1h-1zM22 6h7v1h-7zM8 7h2v1h-2zM12 7h1v1h-1zM14 7h2v1h-2zM17 7h2v1h-2zM20 7h1v1h-1zM0 8h2v1h-2zM3 8h1v1h-1zM6 8h2v1h-2zM10 8h1v1h-1zM13 8h1v1h-1zM16 8h1v1h-1zM22 8h3v1h-3zM26 8h2v1h-2zM0 9h6v1h-6zM7 9h1v1h-1zM10 9h2v1h-2zM16 9h2v1h-2zM20 9h1v1h-1zM22 9h1v1h-1zM25 9h1v1h-1zM28 9h1v1h-1zM1 10h1v1h-1zM3 10h1v1h-1zM6 10h2v1h-2zM9 10h2v1h-2zM13 10h1v1h-1zM16 10h1v1h-1zM19 10h1v1h-1zM21 10h1v1h-1zM23 10h1v1h-1zM25 10h3v1h-3zM0 11h2v1h-2zM4 11h1v1h-1zM7 11h2v1h-2zM13 11h1v1h-1zM15 11h2v1h-2zM19 11h1v1h-1zM21 11h1v1h-1zM25 11h3v1h-3zM1 12h2v1h-2zM4 12h3v1h-3zM8 12h1v1h-1zM12 12h2v1h-2zM16 12h3v1h-3zM21 12h3v1h-3zM25 12h1v1h-1zM27 12h2v1h-2zM1 13h5v1h-5zM7 13h1v1h-1zM10 13h4v1h-4zM19 13h3v1h-3zM26 13h1v1h-1zM0 14h1v1h-1zM2 14h2v1h-2zM6 14h2v1h-2zM9 14h2v1h-2zM12 14h3v1h-3zM16 14h1v1h-1zM21 14h3v1h-3zM26 14h3v1h-3zM2 15h1v1h-1zM4 15h1v1h-1zM8 15h2v1h-2zM12 15h4v1h-4zM17 15h1v1h-1zM19 15h1v1h-1zM24 15h2v1h-2zM27 15h1v1h-1zM2 16h2v1h-2zM6 16h1v1h-1zM9 16h1v1h-1zM11 16h2v1h-2zM15 16h1v1h-1zM17 16h1v1h-1zM20 16h2v1h-2zM25 16h1v1h-1zM27 16h1v1h-1zM4 17h1v1h-1zM9 17h2v1h-2zM14 17h1v1h-1zM16 17h1v1h-1zM22 17h1v1h-1zM28 17h1v1h-1zM0 18h1v1h-1zM2 18h5v1h-5zM13 18h1v1h-1zM17 18h2v1h-2zM21 18h3v1h-3zM25 18h1v1h-1zM27 18h2v1h-2zM4 19h1v1h-1zM7 19h2v1h-2zM10 19h1v1h-1zM12 19h1v1h-1zM16 19h4v1h-4zM21 19h1v1h-1zM27 19h2v1h-2zM0 20h1v1h-1zM3 20h1v1h-1zM6 20h4v1h-4zM12 20h3v1h-3zM16 20h1v1h-1zM20 20h5v1h-5zM26 20h1v1h-1zM8 21h3v1h-3zM16 21h1v1h-1zM19 21h2v1h-2zM24 21h1v1h-1zM26 21h3v1h-3zM0 22h7v1h-7zM8 22h3v1h-3zM13 22h1v1h-1zM16 22h2v1h-2zM20 22h1v1h-1zM22 22h1v1h-1zM24 22h1v1h-1zM27 22h1v1h-1zM0 23h1v1h-1zM6 23h1v1h-1zM9 23h2v1h-2zM12 23h3v1h-3zM18 23h1v1h-1zM20 23h1v1h-1zM24 23h1v1h-1zM26 23h3v1h-3zM0 24h1v1h-1zM2 24h3v1h-3zM6 24h1v1h-1zM9 24h2v1h-2zM12 24h2v1h-2zM17 24h1v1h-1zM20 24h6v1h-6zM27 24h1v1h-1zM0 25h1v1h-1zM2 25h3v1h-3zM6 25h1v1h-1zM8 25h3v1h-3zM12 25h2v1h-2zM20 25h1v1h-1zM22 25h1v1h-1zM24 25h2v1h-2zM27 25h1v1h-1zM0 26h1v1h-1zM2 26h3v1h-3zM6 26h1v1h-1zM9 26h4v1h-4zM17 26h1v1h-1zM19 26h2v1h-2zM24 26h3v1h-3zM28 26h1v1h-1zM0 27h1v1h-1zM6 27h1v1h-1zM8 27h1v1h-1zM10 27h1v1h-1zM12 27h3v1h-3zM16 27h5v1h-5zM24 27h1v1h-1zM27 27h1v1h-1zM0 28h7v1h-7zM8 28h1v1h-1zM10 28h3v1h-3zM15 28h1v1h-1zM17 28h2v1h-2zM20 28h2v1h-2zM23 28h2v1h-2zM27 28h1v1h-1z" fill="#0a0a0a"/></g>
</svg>
</body></html>
